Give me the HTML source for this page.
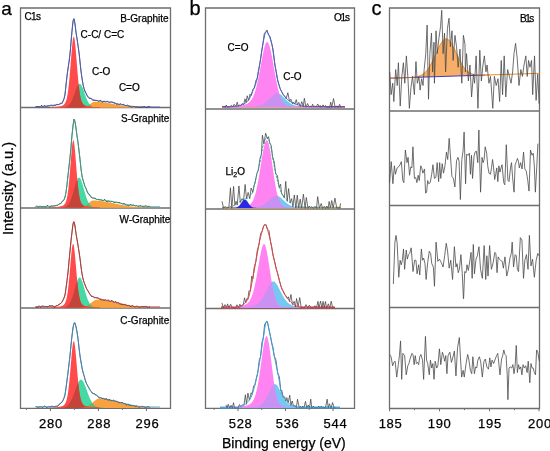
<!DOCTYPE html>
<html><head><meta charset="utf-8"><style>
html,body{margin:0;padding:0;background:#fff;width:550px;height:451px;overflow:hidden}
svg{display:block}
text{font-family:"Liberation Sans",sans-serif;fill:#000;stroke:#000;stroke-width:0.25px}
#g{will-change:transform}
</style></head><body>
<svg id="g" width="550" height="451" viewBox="0 0 550 451">
<rect width="550" height="451" fill="#fff"/>
<path d="M20.5,8 H170.5 V408.3 H20.5 Z" fill="none" stroke="#6e6e6e" stroke-width="1.3"/>
<path d="M20.5,107.5 H170.5" stroke="#6e6e6e" stroke-width="1.3"/>
<path d="M20.5,208 H170.5" stroke="#6e6e6e" stroke-width="1.3"/>
<path d="M20.5,308 H170.5" stroke="#6e6e6e" stroke-width="1.3"/>
<path d="M205.5,8 H354.5 V408.3 H205.5 Z" fill="none" stroke="#6e6e6e" stroke-width="1.3"/>
<path d="M205.5,109 H354.5" stroke="#6e6e6e" stroke-width="1.3"/>
<path d="M205.5,209 H354.5" stroke="#6e6e6e" stroke-width="1.3"/>
<path d="M205.5,308.5 H354.5" stroke="#6e6e6e" stroke-width="1.3"/>
<path d="M389.5,8 H539.5 V408.5 H389.5 Z" fill="none" stroke="#6e6e6e" stroke-width="1.3"/>
<path d="M389.5,111 H539.5" stroke="#6e6e6e" stroke-width="1.3"/>
<path d="M389.5,205.5 H539.5" stroke="#6e6e6e" stroke-width="1.3"/>
<path d="M389.5,307.5 H539.5" stroke="#6e6e6e" stroke-width="1.3"/>
<path d="M45,107.8 L45,107.8 L45.5,107.8 L46,107.8 L46.5,107.8 L47,107.8 L47.5,107.8 L48,107.8 L48.5,107.8 L49,107.8 L49.5,107.8 L50,107.8 L50.5,107.8 L51,107.8 L51.5,107.8 L52,107.8 L52.5,107.8 L53,107.8 L53.5,107.8 L54,107.8 L54.5,107.8 L55,107.8 L55.5,107.8 L56,107.8 L56.5,107.8 L57,107.8 L57.5,107.8 L58,107.8 L58.5,107.8 L59,107.8 L59.5,107.8 L60,107.8 L60.5,107.8 L61,107.8 L61.5,107.8 L62,107.8 L62.5,107.8 L63,107.8 L63.5,107.8 L64,107.8 L64.5,107.8 L65,107.8 L65.5,107.8 L66,107.8 L66.5,107.8 L67,107.8 L67.5,107.8 L68,107.8 L68.5,107.8 L69,107.8 L69.5,107.8 L70,107.8 L70.5,107.8 L71,107.8 L71.5,107.8 L72,107.8 L72.5,107.8 L73,107.8 L73.5,107.8 L74,107.8 L74.5,107.8 L75,107.8 L75.5,107.8 L76,107.8 L76.5,107.79 L77,107.79 L77.5,107.79 L78,107.78 L78.5,107.77 L79,107.76 L79.5,107.75 L80,107.73 L80.5,107.71 L81,107.68 L81.5,107.64 L82,107.6 L82.5,107.54 L83,107.46 L83.5,107.37 L84,107.27 L84.5,107.14 L85,106.99 L85.5,106.81 L86,106.61 L86.5,106.39 L87,106.13 L87.5,105.85 L88,105.55 L88.5,105.22 L89,104.88 L89.5,104.52 L90,104.16 L90.5,103.8 L91,103.44 L91.5,103.1 L92,102.79 L92.5,102.51 L93,102.26 L93.5,102.06 L94,101.92 L94.5,101.83 L95,101.8 L95.5,101.8 L96,101.81 L96.5,101.82 L97,101.83 L97.5,101.85 L98,101.87 L98.5,101.9 L99,101.93 L99.5,101.97 L100,102 L100.5,102.05 L101,102.09 L101.5,102.14 L102,102.19 L102.5,102.25 L103,102.31 L103.5,102.37 L104,102.44 L104.5,102.51 L105,102.58 L105.5,102.65 L106,102.73 L106.5,102.8 L107,102.88 L107.5,102.97 L108,103.05 L108.5,103.14 L109,103.23 L109.5,103.32 L110,103.41 L110.5,103.5 L111,103.59 L111.5,103.68 L112,103.78 L112.5,103.87 L113,103.97 L113.5,104.07 L114,104.16 L114.5,104.26 L115,104.35 L115.5,104.45 L116,104.54 L116.5,104.64 L117,104.73 L117.5,104.82 L118,104.92 L118.5,105.01 L119,105.1 L119.5,105.19 L120,105.28 L120.5,105.36 L121,105.45 L121.5,105.53 L122,105.61 L122.5,105.69 L123,105.77 L123.5,105.85 L124,105.93 L124.5,106 L125,106.08 L125.5,106.15 L126,106.21 L126.5,106.28 L127,106.35 L127.5,106.41 L128,106.47 L128.5,106.53 L129,106.59 L129.5,106.65 L130,106.7 L130.5,106.75 L131,106.8 L131.5,106.85 L132,106.9 L132.5,106.94 L133,106.99 L133.5,107.03 L134,107.07 L134.5,107.11 L135,107.15 L135.5,107.18 L136,107.22 L136.5,107.25 L137,107.28 L137.5,107.31 L138,107.34 L138.5,107.36 L139,107.39 L139.5,107.41 L140,107.44 L140.5,107.46 L141,107.48 L141.5,107.5 L142,107.52 L142.5,107.54 L143,107.55 L143.5,107.57 L144,107.58 L144.5,107.6 L145,107.61 L145.5,107.62 L146,107.64 L146.5,107.65 L147,107.66 L147.5,107.67 L148,107.68 L148.5,107.69 L149,107.69 L149.5,107.7 L150,107.71 L150.5,107.72 L151,107.72 L151.5,107.73 L152,107.73 L152.5,107.74 L153,107.74 L153.5,107.75 L154,107.75 L154.5,107.76 L155,107.76 L155.5,107.76 L156,107.77 L156.5,107.77 L157,107.77 L157.5,107.77 L158,107.78 L158.5,107.78 L159,107.78 L159.5,107.78 L160,107.78 L160.5,107.78 L161,107.79 L161.5,107.79 L162,107.79 L162.5,107.79 L163,107.79 L163.5,107.79 L164,107.79 L164.5,107.79 L165,107.79 L165,107.8 Z" fill="#f7a23e" stroke="none"/>
<path d="M55,107.8 L55,107.7 L55.5,107.69 L56,107.69 L56.5,107.68 L57,107.68 L57.5,107.67 L58,107.67 L58.5,107.66 L59,107.65 L59.5,107.64 L60,107.63 L60.5,107.62 L61,107.6 L61.5,107.58 L62,107.56 L62.5,107.53 L63,107.5 L63.5,107.45 L64,107.39 L64.5,107.32 L65,107.22 L65.5,107.1 L66,106.95 L66.5,106.76 L67,106.53 L67.5,106.25 L68,105.91 L68.5,105.5 L69,105.01 L69.5,104.44 L70,103.78 L70.5,103.02 L71,102.16 L71.5,101.19 L72,100.12 L72.5,98.96 L73,97.71 L73.5,96.38 L74,95 L74.5,93.58 L75,92.15 L75.5,90.73 L76,89.36 L76.5,88.08 L77,86.91 L77.5,85.88 L78,85.03 L78.5,84.39 L79,83.98 L79.5,83.8 L80,83.88 L80.5,84.2 L81,84.75 L81.5,85.52 L82,86.48 L82.5,87.59 L83,88.84 L83.5,90.18 L84,91.58 L84.5,93.01 L85,94.43 L85.5,95.84 L86,97.19 L86.5,98.47 L87,99.67 L87.5,100.78 L88,101.78 L88.5,102.69 L89,103.49 L89.5,104.19 L90,104.8 L90.5,105.32 L91,105.75 L91.5,106.12 L92,106.43 L92.5,106.68 L93,106.88 L93.5,107.04 L94,107.18 L94.5,107.28 L95,107.36 L95.5,107.43 L96,107.48 L96.5,107.52 L97,107.55 L97.5,107.58 L98,107.6 L98.5,107.61 L99,107.63 L99.5,107.64 L100,107.65 L100.5,107.66 L101,107.66 L101.5,107.67 L102,107.67 L102.5,107.68 L103,107.69 L103.5,107.69 L104,107.69 L104.5,107.7 L105,107.7 L105.5,107.71 L106,107.71 L106.5,107.71 L107,107.72 L107.5,107.72 L108,107.72 L108.5,107.72 L109,107.73 L109.5,107.73 L110,107.73 L110.5,107.73 L111,107.73 L111.5,107.74 L112,107.74 L112.5,107.74 L113,107.74 L113.5,107.74 L114,107.75 L114.5,107.75 L115,107.75 L115,107.8 Z" fill="#46d9a3" stroke="none"/>
<path d="M55,107.8 L55,107.8 L55.5,107.8 L56,107.8 L56.5,107.8 L57,107.8 L57.5,107.8 L58,107.8 L58.5,107.8 L59,107.8 L59.5,107.8 L60,107.8 L60.5,107.8 L61,107.8 L61.5,107.8 L62,107.8 L62.5,107.8 L63,107.8 L63.5,107.8 L64,107.8 L64.5,107.8 L65,107.8 L65.5,107.8 L66,107.8 L66.5,107.8 L67,107.8 L67.5,107.8 L68,107.8 L68.5,107.8 L69,107.8 L69.5,107.8 L70,107.8 L70.5,107.8 L71,107.8 L71.5,107.8 L72,107.8 L72.5,107.8 L73,107.8 L73.5,107.8 L74,107.8 L74.5,107.8 L75,107.8 L75.5,107.8 L76,107.8 L76.5,107.79 L77,107.79 L77.5,107.79 L78,107.78 L78.5,107.77 L79,107.76 L79.5,107.75 L80,107.73 L80.5,107.71 L81,107.68 L81.5,107.64 L82,107.6 L82.5,107.54 L83,107.46 L83.5,107.37 L84,107.27 L84.5,107.14 L85,106.99 L85.5,106.81 L86,106.61 L86.5,106.39 L87,106.13 L87.5,105.85 L88,105.55 L88.5,105.22 L89,104.88 L89.5,104.52 L90,104.8 L90.5,105.32 L91,105.75 L91.5,106.12 L92,106.43 L92.5,106.68 L93,106.88 L93.5,107.04 L94,107.18 L94.5,107.28 L95,107.36 L95.5,107.43 L96,107.48 L96.5,107.52 L97,107.55 L97.5,107.58 L98,107.6 L98.5,107.61 L99,107.63 L99.5,107.64 L100,107.65 L100.5,107.66 L101,107.66 L101.5,107.67 L102,107.67 L102.5,107.68 L103,107.69 L103.5,107.69 L104,107.69 L104.5,107.7 L105,107.7 L105.5,107.71 L106,107.71 L106.5,107.71 L107,107.72 L107.5,107.72 L108,107.72 L108.5,107.72 L109,107.73 L109.5,107.73 L110,107.73 L110.5,107.73 L111,107.73 L111.5,107.74 L112,107.74 L112.5,107.74 L113,107.74 L113.5,107.74 L114,107.75 L114.5,107.75 L115,107.75 L115,107.8 Z" fill="#5fb86e" stroke="none"/>
<path d="M50,107.8 L50,107.27 L50.5,107.25 L51,107.23 L51.5,107.2 L52,107.18 L52.5,107.15 L53,107.12 L53.5,107.08 L54,107.05 L54.5,107.01 L55,106.97 L55.5,106.93 L56,106.88 L56.5,106.83 L57,106.77 L57.5,106.71 L58,106.64 L58.5,106.57 L59,106.49 L59.5,106.4 L60,106.3 L60.5,106.19 L61,106.06 L61.5,105.92 L62,105.75 L62.5,105.54 L63,105.28 L63.5,104.96 L64,104.54 L64.5,103.99 L65,103.27 L65.5,102.31 L66,101.05 L66.5,99.42 L67,97.32 L67.5,94.69 L68,91.44 L68.5,87.54 L69,82.95 L69.5,77.73 L70,71.94 L70.5,65.74 L71,59.34 L71.5,53.05 L72,47.23 L72.5,42.29 L73,38.67 L73.5,36.75 L74,36.75 L74.5,38.67 L75,42.29 L75.5,47.23 L76,53.05 L76.5,59.34 L77,65.74 L77.5,71.94 L78,77.73 L78.5,82.95 L79,87.54 L79.5,91.44 L80,94.69 L80.5,97.32 L81,99.42 L81.5,101.05 L82,102.31 L82.5,103.27 L83,103.99 L83.5,104.54 L84,104.96 L84.5,105.28 L85,105.54 L85.5,105.75 L86,105.92 L86.5,106.06 L87,106.19 L87.5,106.3 L88,106.4 L88.5,106.49 L89,106.57 L89.5,106.64 L90,106.71 L90.5,106.77 L91,106.83 L91.5,106.88 L92,106.93 L92.5,106.97 L93,107.01 L93.5,107.05 L94,107.08 L94.5,107.12 L95,107.15 L95.5,107.18 L96,107.2 L96.5,107.23 L97,107.25 L97.5,107.27 L98,107.3 L98.5,107.32 L99,107.33 L99.5,107.35 L100,107.37 L100,107.8 Z" fill="#ff4b4b" stroke="none"/>
<path d="M50,107.8 L50,107.73 L50.5,107.72 L51,107.72 L51.5,107.72 L52,107.72 L52.5,107.71 L53,107.71 L53.5,107.71 L54,107.7 L54.5,107.7 L55,107.7 L55.5,107.69 L56,107.69 L56.5,107.68 L57,107.68 L57.5,107.67 L58,107.67 L58.5,107.66 L59,107.65 L59.5,107.64 L60,107.63 L60.5,107.62 L61,107.6 L61.5,107.58 L62,107.56 L62.5,107.53 L63,107.5 L63.5,107.45 L64,107.39 L64.5,107.32 L65,107.22 L65.5,107.1 L66,106.95 L66.5,106.76 L67,106.53 L67.5,106.25 L68,105.91 L68.5,105.5 L69,105.01 L69.5,104.44 L70,103.78 L70.5,103.02 L71,102.16 L71.5,101.19 L72,100.12 L72.5,98.96 L73,97.71 L73.5,96.38 L74,95 L74.5,93.58 L75,92.15 L75.5,90.73 L76,89.36 L76.5,88.08 L77,86.91 L77.5,85.88 L78,85.03 L78.5,84.39 L79,87.54 L79.5,91.44 L80,94.69 L80.5,97.32 L81,99.42 L81.5,101.05 L82,102.31 L82.5,103.27 L83,103.99 L83.5,104.54 L84,104.96 L84.5,105.28 L85,105.54 L85.5,105.75 L86,105.92 L86.5,106.06 L87,106.19 L87.5,106.3 L88,106.4 L88.5,106.49 L89,106.57 L89.5,106.64 L90,106.71 L90.5,106.77 L91,106.83 L91.5,106.88 L92,106.93 L92.5,106.97 L93,107.01 L93.5,107.05 L94,107.18 L94.5,107.28 L95,107.36 L95.5,107.43 L96,107.48 L96.5,107.52 L97,107.55 L97.5,107.58 L98,107.6 L98.5,107.61 L99,107.63 L99.5,107.64 L100,107.65 L100,107.8 Z" fill="#c4443a" stroke="none"/>
<path d="M50,107.8 L50,107.8 L50.5,107.8 L51,107.8 L51.5,107.8 L52,107.8 L52.5,107.8 L53,107.8 L53.5,107.8 L54,107.8 L54.5,107.8 L55,107.8 L55.5,107.8 L56,107.8 L56.5,107.8 L57,107.8 L57.5,107.8 L58,107.8 L58.5,107.8 L59,107.8 L59.5,107.8 L60,107.8 L60.5,107.8 L61,107.8 L61.5,107.8 L62,107.8 L62.5,107.8 L63,107.8 L63.5,107.8 L64,107.8 L64.5,107.8 L65,107.8 L65.5,107.8 L66,107.8 L66.5,107.8 L67,107.8 L67.5,107.8 L68,107.8 L68.5,107.8 L69,107.8 L69.5,107.8 L70,107.8 L70.5,107.8 L71,107.8 L71.5,107.8 L72,107.8 L72.5,107.8 L73,107.8 L73.5,107.8 L74,107.8 L74.5,107.8 L75,107.8 L75.5,107.8 L76,107.8 L76.5,107.79 L77,107.79 L77.5,107.79 L78,107.78 L78.5,107.77 L79,107.76 L79.5,107.75 L80,107.73 L80.5,107.71 L81,107.68 L81.5,107.64 L82,107.6 L82.5,107.54 L83,107.46 L83.5,107.37 L84,107.27 L84.5,107.14 L85,106.99 L85.5,106.81 L86,106.61 L86.5,106.39 L87,106.19 L87.5,106.3 L88,106.4 L88.5,106.49 L89,106.57 L89.5,106.64 L90,106.71 L90.5,106.77 L91,106.83 L91.5,106.88 L92,106.93 L92.5,106.97 L93,107.01 L93.5,107.05 L94,107.08 L94.5,107.12 L95,107.15 L95.5,107.18 L96,107.2 L96.5,107.23 L97,107.25 L97.5,107.27 L98,107.3 L98.5,107.32 L99,107.33 L99.5,107.35 L100,107.37 L100,107.8 Z" fill="#f2553a" stroke="none"/>
<path d="M36,106.29 L37,106.79 L38,106.42 L39,106.78 L40,106.75 L41,105.66 L42,105.49 L43,106.88 L44,105.75 L45,105.6 L46,106.87 L47,105.82 L48,106.37 L49,105.61 L50,105.8 L51,104.82 L52,105.59 L53,105.92 L54,105.19 L55,105.47 L56,105.2 L57,103.95 L58,105 L59,104.47 L60,103.67 L61,102.85 L62,103.64 L63,101.18 L64,98.96 L65,94.68 L66,85.25 L67,76.48 L68,68.45 L69,62.37 L70,53.76 L71,42.78 L72,31.56 L73,21.11 L74,18.6 L75,23.73 L76,32.82 L77,38.56 L78,45.64 L79,52.43 L80,61.84 L81,70.98 L82,78.12 L83,84.34 L84,88.58 L85,91.69 L86,93.45 L87,95.71 L88,97.03 L89,98.37 L90,98.51 L91,98.08 L92,99.77 L93,100.34 L94,100.56 L95,100.24 L96,100.75 L97,100.06 L98,101.37 L99,101.08 L100,100.71 L101,100.45 L102,101.99 L103,102.33 L104,100.79 L105,102.16 L106,101.53 L107,101.15 L108,101.5 L109,102.46 L110,102.77 L111,101.43 L112,102.64 L113,101.83 L114,103.26 L115,102.81 L116,104.04 L117,104.47 L118,103.86 L119,104.98 L120,103.96 L121,103.75 L122,104.92 L123,104.12 L124,104.64 L125,105.23 L126,105.79 L127,105.14 L128,105.08 L129,106.68 L130,105.8 L131,107.08 L132,107.08 L133,106.25 L134,106.49 L135,106.69 L136,106.99 L137,106.97 L138,106.95 L139,107.1 L140,107.69 L141,106.92 L142,106.8 L143,107.32 L144,106.46 L145,106.59 L146,107.81 L147,107 L148,107.05 L149,106.09 L150,106.82" fill="none" stroke="#222" stroke-width="0.7" stroke-linejoin="round" />
<path d="M35,106.8 L35.5,106.78 L36,106.76 L36.5,106.74 L37,106.71 L37.5,106.69 L38,106.66 L38.5,106.63 L39,106.59 L39.5,106.56 L40,106.52 L40.5,106.49 L41,106.45 L41.5,106.41 L42,106.36 L42.5,106.32 L43,106.27 L43.5,106.23 L44,106.18 L44.5,106.13 L45,106.08 L45.5,106.03 L46,105.98 L46.5,105.93 L47,105.88 L47.5,105.82 L48,105.77 L48.5,105.71 L49,105.66 L49.5,105.6 L50,105.55 L50.5,105.49 L51,105.44 L51.5,105.4 L52,105.35 L52.5,105.3 L53,105.25 L53.5,105.2 L54,105.15 L54.5,105.09 L55,105.03 L55.5,104.97 L56,104.9 L56.5,104.82 L57,104.73 L57.5,104.64 L58,104.54 L58.5,104.43 L59,104.3 L59.5,104.17 L60,104.02 L60.5,103.86 L61,103.69 L61.5,103.47 L62,102.98 L62.5,102.23 L63,101.22 L63.5,100 L64,98.57 L64.5,96.93 L65,94 L65.5,89.76 L66,84.86 L66.5,79.97 L67,75.72 L67.5,72.06 L68,68.64 L68.5,65.29 L69,61.83 L69.5,58.08 L70,53.86 L70.5,48.67 L71,42 L71.5,35.79 L72,30.88 L72.5,25.96 L73,21.83 L73.5,19.35 L74,19.26 L74.5,21.11 L75,24.24 L75.5,28.06 L76,31.99 L76.5,35.44 L77,38.67 L77.5,41.98 L78,45.41 L78.5,48.99 L79,52.78 L79.5,57.1 L80,61.83 L80.5,66.64 L81,71.19 L81.5,75.15 L82,78.39 L82.5,81.41 L83,84.18 L83.5,86.56 L84,88.43 L84.5,89.76 L85,90.96 L85.5,92.08 L86,93.12 L86.5,94.07 L87,94.93 L87.5,95.71 L88,96.39 L88.5,96.99 L89,97.49 L89.5,97.89 L90,98.2 L90.5,98.45 L91,98.69 L91.5,98.91 L92,99.12 L92.5,99.32 L93,99.5 L93.5,99.67 L94,99.83 L94.5,99.98 L95,100.12 L95.5,100.25 L96,100.37 L96.5,100.48 L97,100.58 L97.5,100.68 L98,100.78 L98.5,100.86 L99,100.95 L99.5,101.02 L100,101.1 L100.5,101.17 L101,101.24 L101.5,101.3 L102,101.35 L102.5,101.4 L103,101.45 L103.5,101.49 L104,101.53 L104.5,101.57 L105,101.61 L105.5,101.65 L106,101.69 L106.5,101.73 L107,101.78 L107.5,101.82 L108,101.87 L108.5,101.92 L109,101.97 L109.5,102.03 L110,102.1 L110.5,102.17 L111,102.25 L111.5,102.34 L112,102.44 L112.5,102.54 L113,102.65 L113.5,102.76 L114,102.87 L114.5,102.99 L115,103.11 L115.5,103.23 L116,103.36 L116.5,103.48 L117,103.6 L117.5,103.73 L118,103.85 L118.5,103.97 L119,104.08 L119.5,104.19 L120,104.3 L120.5,104.41 L121,104.52 L121.5,104.63 L122,104.74 L122.5,104.85 L123,104.97 L123.5,105.08 L124,105.19 L124.5,105.3 L125,105.4 L125.5,105.5 L126,105.59 L126.5,105.68 L127,105.76 L127.5,105.83 L128,105.9 L128.5,105.96 L129,106.02 L129.5,106.08 L130,106.14 L130.5,106.2 L131,106.25 L131.5,106.31 L132,106.37 L132.5,106.42 L133,106.47 L133.5,106.52 L134,106.57 L134.5,106.61 L135,106.65 L135.5,106.69 L136,106.73 L136.5,106.76 L137,106.79 L137.5,106.82 L138,106.85 L138.5,106.87 L139,106.88 L139.5,106.89 L140,106.9 L140.5,106.91 L141,106.91 L141.5,106.91 L142,106.92 L142.5,106.92 L143,106.93 L143.5,106.93 L144,106.94 L144.5,106.94 L145,106.94 L145.5,106.95 L146,106.95 L146.5,106.95 L147,106.96 L147.5,106.96 L148,106.96 L148.5,106.97 L149,106.97 L149.5,106.97 L150,106.98 L150.5,106.98 L151,106.98 L151.5,106.98 L152,106.98 L152.5,106.99 L153,106.99 L153.5,106.99 L154,106.99 L154.5,106.99 L155,106.99 L155.5,107 L156,107 L156.5,107 L157,107 L157.5,107 L158,107 L158.5,107 L159,107 L159.5,107 L160,107" fill="none" stroke="#4858c0" stroke-width="0.85" stroke-linejoin="round" />
<text x="120.3" y="22" font-size="10">B-Graphite</text>
<path d="M45,207.8 L45,207.8 L45.5,207.8 L46,207.8 L46.5,207.8 L47,207.8 L47.5,207.8 L48,207.8 L48.5,207.8 L49,207.8 L49.5,207.8 L50,207.8 L50.5,207.8 L51,207.8 L51.5,207.8 L52,207.8 L52.5,207.8 L53,207.8 L53.5,207.8 L54,207.8 L54.5,207.8 L55,207.8 L55.5,207.8 L56,207.8 L56.5,207.8 L57,207.8 L57.5,207.8 L58,207.8 L58.5,207.8 L59,207.8 L59.5,207.8 L60,207.8 L60.5,207.8 L61,207.8 L61.5,207.8 L62,207.8 L62.5,207.8 L63,207.8 L63.5,207.8 L64,207.8 L64.5,207.8 L65,207.8 L65.5,207.8 L66,207.8 L66.5,207.8 L67,207.8 L67.5,207.8 L68,207.8 L68.5,207.8 L69,207.8 L69.5,207.8 L70,207.8 L70.5,207.8 L71,207.8 L71.5,207.8 L72,207.8 L72.5,207.8 L73,207.8 L73.5,207.8 L74,207.8 L74.5,207.8 L75,207.8 L75.5,207.8 L76,207.79 L76.5,207.79 L77,207.79 L77.5,207.78 L78,207.77 L78.5,207.76 L79,207.74 L79.5,207.72 L80,207.69 L80.5,207.65 L81,207.59 L81.5,207.52 L82,207.43 L82.5,207.32 L83,207.18 L83.5,207.01 L84,206.81 L84.5,206.57 L85,206.3 L85.5,205.98 L86,205.62 L86.5,205.23 L87,204.8 L87.5,204.34 L88,203.86 L88.5,203.37 L89,202.88 L89.5,202.41 L90,201.95 L90.5,201.54 L91,201.19 L91.5,200.89 L92,200.68 L92.5,200.54 L93,200.5 L93.5,200.5 L94,200.51 L94.5,200.52 L95,200.53 L95.5,200.55 L96,200.57 L96.5,200.6 L97,200.63 L97.5,200.67 L98,200.7 L98.5,200.75 L99,200.79 L99.5,200.84 L100,200.89 L100.5,200.95 L101,201.01 L101.5,201.07 L102,201.14 L102.5,201.21 L103,201.28 L103.5,201.36 L104,201.44 L104.5,201.52 L105,201.6 L105.5,201.69 L106,201.77 L106.5,201.86 L107,201.95 L107.5,202.05 L108,202.14 L108.5,202.24 L109,202.34 L109.5,202.44 L110,202.54 L110.5,202.64 L111,202.74 L111.5,202.85 L112,202.95 L112.5,203.06 L113,203.16 L113.5,203.27 L114,203.37 L114.5,203.48 L115,203.58 L115.5,203.69 L116,203.79 L116.5,203.9 L117,204 L117.5,204.1 L118,204.21 L118.5,204.31 L119,204.41 L119.5,204.51 L120,204.61 L120.5,204.7 L121,204.8 L121.5,204.89 L122,204.99 L122.5,205.08 L123,205.17 L123.5,205.26 L124,205.34 L124.5,205.43 L125,205.51 L125.5,205.6 L126,205.68 L126.5,205.75 L127,205.83 L127.5,205.91 L128,205.98 L128.5,206.05 L129,206.12 L129.5,206.19 L130,206.25 L130.5,206.32 L131,206.38 L131.5,206.44 L132,206.5 L132.5,206.56 L133,206.61 L133.5,206.66 L134,206.71 L134.5,206.76 L135,206.81 L135.5,206.86 L136,206.9 L136.5,206.95 L137,206.99 L137.5,207.03 L138,207.07 L138.5,207.1 L139,207.14 L139.5,207.17 L140,207.2 L140.5,207.23 L141,207.26 L141.5,207.29 L142,207.32 L142.5,207.35 L143,207.37 L143.5,207.39 L144,207.42 L144.5,207.44 L145,207.46 L145.5,207.48 L146,207.5 L146.5,207.52 L147,207.53 L147.5,207.55 L148,207.56 L148.5,207.58 L149,207.59 L149.5,207.6 L150,207.62 L150.5,207.63 L151,207.64 L151.5,207.65 L152,207.66 L152.5,207.67 L153,207.68 L153.5,207.68 L154,207.69 L154.5,207.7 L155,207.71 L155.5,207.71 L156,207.72 L156.5,207.72 L157,207.73 L157.5,207.73 L158,207.74 L158.5,207.74 L159,207.75 L159.5,207.75 L160,207.76 L160.5,207.76 L161,207.76 L161.5,207.76 L162,207.77 L162.5,207.77 L163,207.77 L163.5,207.77 L164,207.78 L164.5,207.78 L165,207.78 L165,207.8 Z" fill="#f7a23e" stroke="none"/>
<path d="M55,207.8 L55,207.66 L55.5,207.66 L56,207.65 L56.5,207.64 L57,207.64 L57.5,207.63 L58,207.62 L58.5,207.61 L59,207.6 L59.5,207.58 L60,207.57 L60.5,207.55 L61,207.52 L61.5,207.49 L62,207.45 L62.5,207.41 L63,207.34 L63.5,207.27 L64,207.17 L64.5,207.04 L65,206.88 L65.5,206.68 L66,206.44 L66.5,206.14 L67,205.76 L67.5,205.32 L68,204.78 L68.5,204.15 L69,203.4 L69.5,202.54 L70,201.56 L70.5,200.44 L71,199.2 L71.5,197.83 L72,196.33 L72.5,194.73 L73,193.04 L73.5,191.28 L74,189.48 L74.5,187.68 L75,185.9 L75.5,184.19 L76,182.59 L76.5,181.15 L77,179.89 L77.5,178.87 L78,178.12 L78.5,177.66 L79,177.5 L79.5,177.66 L80,178.12 L80.5,178.87 L81,179.89 L81.5,181.15 L82,182.59 L82.5,184.19 L83,185.9 L83.5,187.68 L84,189.48 L84.5,191.28 L85,193.04 L85.5,194.73 L86,196.33 L86.5,197.83 L87,199.2 L87.5,200.44 L88,201.56 L88.5,202.54 L89,203.4 L89.5,204.15 L90,204.78 L90.5,205.32 L91,205.76 L91.5,206.14 L92,206.44 L92.5,206.68 L93,206.88 L93.5,207.04 L94,207.17 L94.5,207.27 L95,207.34 L95.5,207.41 L96,207.45 L96.5,207.49 L97,207.52 L97.5,207.55 L98,207.57 L98.5,207.58 L99,207.6 L99.5,207.61 L100,207.62 L100.5,207.63 L101,207.64 L101.5,207.64 L102,207.65 L102.5,207.66 L103,207.66 L103.5,207.67 L104,207.67 L104.5,207.68 L105,207.68 L105.5,207.69 L106,207.69 L106.5,207.69 L107,207.7 L107.5,207.7 L108,207.7 L108.5,207.71 L109,207.71 L109.5,207.71 L110,207.72 L110.5,207.72 L111,207.72 L111.5,207.72 L112,207.73 L112.5,207.73 L113,207.73 L113.5,207.73 L114,207.73 L114.5,207.74 L115,207.74 L115,207.8 Z" fill="#46d9a3" stroke="none"/>
<path d="M55,207.8 L55,207.8 L55.5,207.8 L56,207.8 L56.5,207.8 L57,207.8 L57.5,207.8 L58,207.8 L58.5,207.8 L59,207.8 L59.5,207.8 L60,207.8 L60.5,207.8 L61,207.8 L61.5,207.8 L62,207.8 L62.5,207.8 L63,207.8 L63.5,207.8 L64,207.8 L64.5,207.8 L65,207.8 L65.5,207.8 L66,207.8 L66.5,207.8 L67,207.8 L67.5,207.8 L68,207.8 L68.5,207.8 L69,207.8 L69.5,207.8 L70,207.8 L70.5,207.8 L71,207.8 L71.5,207.8 L72,207.8 L72.5,207.8 L73,207.8 L73.5,207.8 L74,207.8 L74.5,207.8 L75,207.8 L75.5,207.8 L76,207.79 L76.5,207.79 L77,207.79 L77.5,207.78 L78,207.77 L78.5,207.76 L79,207.74 L79.5,207.72 L80,207.69 L80.5,207.65 L81,207.59 L81.5,207.52 L82,207.43 L82.5,207.32 L83,207.18 L83.5,207.01 L84,206.81 L84.5,206.57 L85,206.3 L85.5,205.98 L86,205.62 L86.5,205.23 L87,204.8 L87.5,204.34 L88,203.86 L88.5,203.37 L89,203.4 L89.5,204.15 L90,204.78 L90.5,205.32 L91,205.76 L91.5,206.14 L92,206.44 L92.5,206.68 L93,206.88 L93.5,207.04 L94,207.17 L94.5,207.27 L95,207.34 L95.5,207.41 L96,207.45 L96.5,207.49 L97,207.52 L97.5,207.55 L98,207.57 L98.5,207.58 L99,207.6 L99.5,207.61 L100,207.62 L100.5,207.63 L101,207.64 L101.5,207.64 L102,207.65 L102.5,207.66 L103,207.66 L103.5,207.67 L104,207.67 L104.5,207.68 L105,207.68 L105.5,207.69 L106,207.69 L106.5,207.69 L107,207.7 L107.5,207.7 L108,207.7 L108.5,207.71 L109,207.71 L109.5,207.71 L110,207.72 L110.5,207.72 L111,207.72 L111.5,207.72 L112,207.73 L112.5,207.73 L113,207.73 L113.5,207.73 L114,207.73 L114.5,207.74 L115,207.74 L115,207.8 Z" fill="#5fb86e" stroke="none"/>
<path d="M50,207.8 L50,207.34 L50.5,207.32 L51,207.3 L51.5,207.28 L52,207.26 L52.5,207.23 L53,207.2 L53.5,207.17 L54,207.14 L54.5,207.11 L55,207.07 L55.5,207.03 L56,206.99 L56.5,206.94 L57,206.89 L57.5,206.83 L58,206.77 L58.5,206.7 L59,206.63 L59.5,206.55 L60,206.46 L60.5,206.36 L61,206.24 L61.5,206.11 L62,205.95 L62.5,205.76 L63,205.53 L63.5,205.23 L64,204.85 L64.5,204.34 L65,203.65 L65.5,202.72 L66,201.48 L66.5,199.84 L67,197.7 L67.5,194.97 L68,191.58 L68.5,187.46 L69,182.61 L69.5,177.09 L70,171.02 L70.5,164.61 L71,158.14 L71.5,152.01 L72,146.68 L72.5,142.65 L73,140.38 L73.5,140.17 L74,142.04 L74.5,145.75 L75,150.87 L75.5,156.87 L76,163.31 L76.5,169.76 L77,175.92 L77.5,181.56 L78,186.55 L78.5,190.81 L79,194.35 L79.5,197.21 L80,199.46 L80.5,201.19 L81,202.5 L81.5,203.48 L82,204.21 L82.5,204.76 L83,205.16 L83.5,205.48 L84,205.72 L84.5,205.92 L85,206.08 L85.5,206.21 L86,206.33 L86.5,206.44 L87,206.53 L87.5,206.61 L88,206.69 L88.5,206.76 L89,206.82 L89.5,206.88 L90,206.93 L90.5,206.98 L91,207.02 L91.5,207.06 L92,207.1 L92.5,207.13 L93,207.17 L93.5,207.2 L94,207.22 L94.5,207.25 L95,207.27 L95.5,207.3 L96,207.32 L96.5,207.34 L97,207.36 L97.5,207.38 L98,207.39 L98.5,207.41 L99,207.42 L99.5,207.44 L100,207.45 L100,207.8 Z" fill="#ff4b4b" stroke="none"/>
<path d="M50,207.8 L50,207.7 L50.5,207.7 L51,207.7 L51.5,207.69 L52,207.69 L52.5,207.69 L53,207.68 L53.5,207.68 L54,207.67 L54.5,207.67 L55,207.66 L55.5,207.66 L56,207.65 L56.5,207.64 L57,207.64 L57.5,207.63 L58,207.62 L58.5,207.61 L59,207.6 L59.5,207.58 L60,207.57 L60.5,207.55 L61,207.52 L61.5,207.49 L62,207.45 L62.5,207.41 L63,207.34 L63.5,207.27 L64,207.17 L64.5,207.04 L65,206.88 L65.5,206.68 L66,206.44 L66.5,206.14 L67,205.76 L67.5,205.32 L68,204.78 L68.5,204.15 L69,203.4 L69.5,202.54 L70,201.56 L70.5,200.44 L71,199.2 L71.5,197.83 L72,196.33 L72.5,194.73 L73,193.04 L73.5,191.28 L74,189.48 L74.5,187.68 L75,185.9 L75.5,184.19 L76,182.59 L76.5,181.15 L77,179.89 L77.5,181.56 L78,186.55 L78.5,190.81 L79,194.35 L79.5,197.21 L80,199.46 L80.5,201.19 L81,202.5 L81.5,203.48 L82,204.21 L82.5,204.76 L83,205.16 L83.5,205.48 L84,205.72 L84.5,205.92 L85,206.08 L85.5,206.21 L86,206.33 L86.5,206.44 L87,206.53 L87.5,206.61 L88,206.69 L88.5,206.76 L89,206.82 L89.5,206.88 L90,206.93 L90.5,206.98 L91,207.02 L91.5,207.06 L92,207.1 L92.5,207.13 L93,207.17 L93.5,207.2 L94,207.22 L94.5,207.27 L95,207.34 L95.5,207.41 L96,207.45 L96.5,207.49 L97,207.52 L97.5,207.55 L98,207.57 L98.5,207.58 L99,207.6 L99.5,207.61 L100,207.62 L100,207.8 Z" fill="#c4443a" stroke="none"/>
<path d="M50,207.8 L50,207.8 L50.5,207.8 L51,207.8 L51.5,207.8 L52,207.8 L52.5,207.8 L53,207.8 L53.5,207.8 L54,207.8 L54.5,207.8 L55,207.8 L55.5,207.8 L56,207.8 L56.5,207.8 L57,207.8 L57.5,207.8 L58,207.8 L58.5,207.8 L59,207.8 L59.5,207.8 L60,207.8 L60.5,207.8 L61,207.8 L61.5,207.8 L62,207.8 L62.5,207.8 L63,207.8 L63.5,207.8 L64,207.8 L64.5,207.8 L65,207.8 L65.5,207.8 L66,207.8 L66.5,207.8 L67,207.8 L67.5,207.8 L68,207.8 L68.5,207.8 L69,207.8 L69.5,207.8 L70,207.8 L70.5,207.8 L71,207.8 L71.5,207.8 L72,207.8 L72.5,207.8 L73,207.8 L73.5,207.8 L74,207.8 L74.5,207.8 L75,207.8 L75.5,207.8 L76,207.79 L76.5,207.79 L77,207.79 L77.5,207.78 L78,207.77 L78.5,207.76 L79,207.74 L79.5,207.72 L80,207.69 L80.5,207.65 L81,207.59 L81.5,207.52 L82,207.43 L82.5,207.32 L83,207.18 L83.5,207.01 L84,206.81 L84.5,206.57 L85,206.3 L85.5,206.21 L86,206.33 L86.5,206.44 L87,206.53 L87.5,206.61 L88,206.69 L88.5,206.76 L89,206.82 L89.5,206.88 L90,206.93 L90.5,206.98 L91,207.02 L91.5,207.06 L92,207.1 L92.5,207.13 L93,207.17 L93.5,207.2 L94,207.22 L94.5,207.25 L95,207.27 L95.5,207.3 L96,207.32 L96.5,207.34 L97,207.36 L97.5,207.38 L98,207.39 L98.5,207.41 L99,207.42 L99.5,207.44 L100,207.45 L100,207.8 Z" fill="#f2553a" stroke="none"/>
<path d="M36,206.74 L37,205.73 L38,206.8 L39,206.82 L40,205.78 L41,206.79 L42,206.48 L43,206.84 L44,206.23 L45,206.84 L46,206.87 L47,205.55 L48,205.58 L49,206.65 L50,207.12 L51,205.79 L52,206.11 L53,206.29 L54,205.74 L55,205.76 L56,205.49 L57,205.25 L58,205.16 L59,204.04 L60,203.52 L61,203.5 L62,201.26 L63,201.06 L64,199.79 L65,196.96 L66,191.89 L67,184.8 L68,175.22 L69,166.54 L70,157.56 L71,147.13 L72,135 L73,125.72 L74,119.14 L75,121.99 L76,128 L77,136.11 L78,142.21 L79,150.54 L80,159.4 L81,169.16 L82,175.9 L83,179.89 L84,183.08 L85,186.48 L86,188.18 L87,191.44 L88,193.44 L89,193.92 L90,195.39 L91,197.22 L92,197.57 L93,198.42 L94,198.07 L95,198.09 L96,198.73 L97,199.91 L98,199.19 L99,199.5 L100,199.78 L101,199.91 L102,200 L103,201.02 L104,199.74 L105,199.56 L106,201.34 L107,201.33 L108,201.64 L109,200.78 L110,201.87 L111,202 L112,200.93 L113,202.08 L114,202.46 L115,202.37 L116,202.34 L117,202.15 L118,202.47 L119,202.5 L120,202.43 L121,203.58 L122,203.23 L123,204.36 L124,203.15 L125,204.86 L126,204.65 L127,205.23 L128,205.35 L129,205.51 L130,205.09 L131,204.23 L132,205.69 L133,204.8 L134,205.15 L135,205.92 L136,205.77 L137,205.66 L138,206.68 L139,206.15 L140,205.72 L141,205.62 L142,206.77 L143,206.13 L144,206.74 L145,206.01 L146,205.78 L147,206.44 L148,206.99 L149,205.87 L150,207.02" fill="none" stroke="#222" stroke-width="0.7" stroke-linejoin="round" />
<path d="M35,206.6 L35.5,206.6 L36,206.6 L36.5,206.6 L37,206.6 L37.5,206.59 L38,206.59 L38.5,206.59 L39,206.58 L39.5,206.58 L40,206.57 L40.5,206.56 L41,206.56 L41.5,206.55 L42,206.54 L42.5,206.53 L43,206.52 L43.5,206.51 L44,206.5 L44.5,206.48 L45,206.47 L45.5,206.46 L46,206.44 L46.5,206.42 L47,206.41 L47.5,206.39 L48,206.37 L48.5,206.35 L49,206.33 L49.5,206.31 L50,206.29 L50.5,206.26 L51,206.24 L51.5,206.21 L52,206.18 L52.5,206.16 L53,206.13 L53.5,206.1 L54,206.07 L54.5,206.03 L55,206 L55.5,205.94 L56,205.83 L56.5,205.68 L57,205.48 L57.5,205.25 L58,204.99 L58.5,204.71 L59,204.4 L59.5,204.07 L60,203.74 L60.5,203.39 L61,203.01 L61.5,202.59 L62,202.12 L62.5,201.57 L63,200.94 L63.5,200.21 L64,199.37 L64.5,198.4 L65,197.3 L65.5,195.43 L66,192.39 L66.5,188.55 L67,184.25 L67.5,179.85 L68,175.69 L68.5,171.51 L69,167.1 L69.5,162.49 L70,157.68 L70.5,152.54 L71,146.77 L71.5,140.94 L72,135.72 L72.5,130.99 L73,126.05 L73.5,121.86 L74,119.44 L74.5,119.54 L75,121.39 L75.5,124.42 L76,128.11 L76.5,131.95 L77,135.47 L77.5,139.01 L78,142.81 L78.5,146.78 L79,150.84 L79.5,154.9 L80,159.13 L80.5,163.8 L81,168.46 L81.5,172.68 L82,175.99 L82.5,178.34 L83,180.39 L83.5,182.18 L84,183.76 L84.5,185.16 L85,186.43 L85.5,187.6 L86,188.73 L86.5,189.83 L87,190.89 L87.5,191.89 L88,192.83 L88.5,193.7 L89,194.49 L89.5,195.19 L90,195.79 L90.5,196.28 L91,196.67 L91.5,197 L92,197.31 L92.5,197.6 L93,197.87 L93.5,198.12 L94,198.35 L94.5,198.56 L95,198.76 L95.5,198.94 L96,199.1 L96.5,199.25 L97,199.38 L97.5,199.5 L98,199.6 L98.5,199.69 L99,199.78 L99.5,199.86 L100,199.93 L100.5,199.99 L101,200.05 L101.5,200.11 L102,200.17 L102.5,200.22 L103,200.26 L103.5,200.31 L104,200.36 L104.5,200.4 L105,200.45 L105.5,200.49 L106,200.54 L106.5,200.59 L107,200.65 L107.5,200.7 L108,200.76 L108.5,200.83 L109,200.9 L109.5,200.98 L110,201.06 L110.5,201.14 L111,201.24 L111.5,201.33 L112,201.43 L112.5,201.53 L113,201.63 L113.5,201.74 L114,201.85 L114.5,201.96 L115,202.07 L115.5,202.19 L116,202.3 L116.5,202.42 L117,202.53 L117.5,202.65 L118,202.76 L118.5,202.87 L119,202.99 L119.5,203.1 L120,203.21 L120.5,203.31 L121,203.42 L121.5,203.52 L122,203.61 L122.5,203.71 L123,203.8 L123.5,203.88 L124,203.97 L124.5,204.05 L125,204.13 L125.5,204.22 L126,204.3 L126.5,204.38 L127,204.47 L127.5,204.55 L128,204.63 L128.5,204.71 L129,204.8 L129.5,204.87 L130,204.95 L130.5,205.03 L131,205.11 L131.5,205.18 L132,205.25 L132.5,205.32 L133,205.39 L133.5,205.45 L134,205.51 L134.5,205.57 L135,205.63 L135.5,205.68 L136,205.73 L136.5,205.77 L137,205.82 L137.5,205.85 L138,205.89 L138.5,205.92 L139,205.95 L139.5,205.98 L140,206.01 L140.5,206.04 L141,206.06 L141.5,206.09 L142,206.12 L142.5,206.15 L143,206.17 L143.5,206.2 L144,206.23 L144.5,206.25 L145,206.28 L145.5,206.3 L146,206.33 L146.5,206.35 L147,206.37 L147.5,206.4 L148,206.42 L148.5,206.44 L149,206.46 L149.5,206.48 L150,206.5 L150.5,206.52 L151,206.53 L151.5,206.55 L152,206.57 L152.5,206.58 L153,206.6 L153.5,206.61 L154,206.62 L154.5,206.64 L155,206.65 L155.5,206.66 L156,206.67 L156.5,206.67 L157,206.68 L157.5,206.69 L158,206.69 L158.5,206.69 L159,206.7 L159.5,206.7 L160,206.7" fill="none" stroke="#36a585" stroke-width="0.85" stroke-linejoin="round" />
<text x="121" y="121.6" font-size="10">S-Graphite</text>
<path d="M45,307.8 L45,307.8 L45.5,307.8 L46,307.8 L46.5,307.8 L47,307.8 L47.5,307.8 L48,307.8 L48.5,307.8 L49,307.8 L49.5,307.8 L50,307.8 L50.5,307.8 L51,307.8 L51.5,307.8 L52,307.8 L52.5,307.8 L53,307.8 L53.5,307.8 L54,307.8 L54.5,307.8 L55,307.8 L55.5,307.8 L56,307.8 L56.5,307.8 L57,307.8 L57.5,307.8 L58,307.8 L58.5,307.8 L59,307.8 L59.5,307.8 L60,307.8 L60.5,307.8 L61,307.8 L61.5,307.8 L62,307.8 L62.5,307.8 L63,307.8 L63.5,307.8 L64,307.8 L64.5,307.8 L65,307.8 L65.5,307.8 L66,307.8 L66.5,307.8 L67,307.8 L67.5,307.8 L68,307.8 L68.5,307.8 L69,307.8 L69.5,307.8 L70,307.8 L70.5,307.8 L71,307.8 L71.5,307.8 L72,307.8 L72.5,307.8 L73,307.8 L73.5,307.8 L74,307.79 L74.5,307.79 L75,307.79 L75.5,307.79 L76,307.78 L76.5,307.78 L77,307.77 L77.5,307.76 L78,307.75 L78.5,307.73 L79,307.71 L79.5,307.69 L80,307.66 L80.5,307.62 L81,307.57 L81.5,307.52 L82,307.45 L82.5,307.37 L83,307.27 L83.5,307.16 L84,307.03 L84.5,306.89 L85,306.72 L85.5,306.53 L86,306.31 L86.5,306.07 L87,305.81 L87.5,305.52 L88,305.2 L88.5,304.87 L89,304.51 L89.5,304.14 L90,303.75 L90.5,303.35 L91,302.95 L91.5,302.54 L92,302.15 L92.5,301.76 L93,301.39 L93.5,301.05 L94,300.74 L94.5,300.47 L95,300.23 L95.5,300.05 L96,299.91 L96.5,299.83 L97,299.8 L97.5,299.8 L98,299.81 L98.5,299.82 L99,299.84 L99.5,299.87 L100,299.9 L100.5,299.93 L101,299.98 L101.5,300.02 L102,300.07 L102.5,300.13 L103,300.19 L103.5,300.25 L104,300.32 L104.5,300.4 L105,300.48 L105.5,300.56 L106,300.65 L106.5,300.74 L107,300.83 L107.5,300.93 L108,301.03 L108.5,301.14 L109,301.25 L109.5,301.36 L110,301.47 L110.5,301.58 L111,301.7 L111.5,301.82 L112,301.94 L112.5,302.06 L113,302.19 L113.5,302.31 L114,302.44 L114.5,302.57 L115,302.69 L115.5,302.82 L116,302.95 L116.5,303.08 L117,303.2 L117.5,303.33 L118,303.46 L118.5,303.58 L119,303.71 L119.5,303.83 L120,303.96 L120.5,304.08 L121,304.2 L121.5,304.32 L122,304.43 L122.5,304.55 L123,304.66 L123.5,304.78 L124,304.89 L124.5,304.99 L125,305.1 L125.5,305.2 L126,305.3 L126.5,305.4 L127,305.5 L127.5,305.59 L128,305.69 L128.5,305.78 L129,305.86 L129.5,305.95 L130,306.03 L130.5,306.11 L131,306.19 L131.5,306.26 L132,306.33 L132.5,306.4 L133,306.47 L133.5,306.54 L134,306.6 L134.5,306.66 L135,306.72 L135.5,306.77 L136,306.83 L136.5,306.88 L137,306.93 L137.5,306.98 L138,307.02 L138.5,307.06 L139,307.1 L139.5,307.14 L140,307.18 L140.5,307.22 L141,307.25 L141.5,307.28 L142,307.32 L142.5,307.35 L143,307.37 L143.5,307.4 L144,307.42 L144.5,307.45 L145,307.47 L145.5,307.49 L146,307.51 L146.5,307.53 L147,307.55 L147.5,307.57 L148,307.58 L148.5,307.6 L149,307.61 L149.5,307.62 L150,307.64 L150.5,307.65 L151,307.66 L151.5,307.67 L152,307.68 L152.5,307.69 L153,307.7 L153.5,307.7 L154,307.71 L154.5,307.72 L155,307.72 L155.5,307.73 L156,307.74 L156.5,307.74 L157,307.75 L157.5,307.75 L158,307.75 L158.5,307.76 L159,307.76 L159.5,307.76 L160,307.77 L160.5,307.77 L161,307.77 L161.5,307.77 L162,307.78 L162.5,307.78 L163,307.78 L163.5,307.78 L164,307.78 L164.5,307.79 L165,307.79 L165,307.8 Z" fill="#f7a23e" stroke="none"/>
<path d="M55,307.8 L55,307.67 L55.5,307.66 L56,307.66 L56.5,307.65 L57,307.64 L57.5,307.64 L58,307.63 L58.5,307.62 L59,307.61 L59.5,307.6 L60,307.59 L60.5,307.57 L61,307.55 L61.5,307.53 L62,307.5 L62.5,307.46 L63,307.42 L63.5,307.36 L64,307.28 L64.5,307.19 L65,307.07 L65.5,306.92 L66,306.73 L66.5,306.49 L67,306.2 L67.5,305.84 L68,305.41 L68.5,304.9 L69,304.28 L69.5,303.56 L70,302.72 L70.5,301.76 L71,300.68 L71.5,299.46 L72,298.11 L72.5,296.64 L73,295.06 L73.5,293.39 L74,291.64 L74.5,289.85 L75,288.04 L75.5,286.25 L76,284.52 L76.5,282.9 L77,281.42 L77.5,280.13 L78,279.06 L78.5,278.25 L79,277.72 L79.5,277.51 L80,277.6 L80.5,278 L81,278.7 L81.5,279.67 L82,280.88 L82.5,282.29 L83,283.86 L83.5,285.55 L84,287.32 L84.5,289.12 L85,290.93 L85.5,292.7 L86,294.4 L86.5,296.02 L87,297.54 L87.5,298.93 L88,300.2 L88.5,301.34 L89,302.36 L89.5,303.24 L90,304.01 L90.5,304.66 L91,305.22 L91.5,305.68 L92,306.07 L92.5,306.38 L93,306.64 L93.5,306.85 L94,307.01 L94.5,307.14 L95,307.25 L95.5,307.33 L96,307.39 L96.5,307.45 L97,307.49 L97.5,307.52 L98,307.54 L98.5,307.56 L99,307.58 L99.5,307.59 L100,307.61 L100.5,307.62 L101,307.63 L101.5,307.63 L102,307.64 L102.5,307.65 L103,307.66 L103.5,307.66 L104,307.67 L104.5,307.67 L105,307.68 L105.5,307.68 L106,307.69 L106.5,307.69 L107,307.69 L107.5,307.7 L108,307.7 L108.5,307.7 L109,307.71 L109.5,307.71 L110,307.71 L110.5,307.72 L111,307.72 L111.5,307.72 L112,307.72 L112.5,307.72 L113,307.73 L113.5,307.73 L114,307.73 L114.5,307.73 L115,307.73 L115,307.8 Z" fill="#46d9a3" stroke="none"/>
<path d="M55,307.8 L55,307.8 L55.5,307.8 L56,307.8 L56.5,307.8 L57,307.8 L57.5,307.8 L58,307.8 L58.5,307.8 L59,307.8 L59.5,307.8 L60,307.8 L60.5,307.8 L61,307.8 L61.5,307.8 L62,307.8 L62.5,307.8 L63,307.8 L63.5,307.8 L64,307.8 L64.5,307.8 L65,307.8 L65.5,307.8 L66,307.8 L66.5,307.8 L67,307.8 L67.5,307.8 L68,307.8 L68.5,307.8 L69,307.8 L69.5,307.8 L70,307.8 L70.5,307.8 L71,307.8 L71.5,307.8 L72,307.8 L72.5,307.8 L73,307.8 L73.5,307.8 L74,307.79 L74.5,307.79 L75,307.79 L75.5,307.79 L76,307.78 L76.5,307.78 L77,307.77 L77.5,307.76 L78,307.75 L78.5,307.73 L79,307.71 L79.5,307.69 L80,307.66 L80.5,307.62 L81,307.57 L81.5,307.52 L82,307.45 L82.5,307.37 L83,307.27 L83.5,307.16 L84,307.03 L84.5,306.89 L85,306.72 L85.5,306.53 L86,306.31 L86.5,306.07 L87,305.81 L87.5,305.52 L88,305.2 L88.5,304.87 L89,304.51 L89.5,304.14 L90,304.01 L90.5,304.66 L91,305.22 L91.5,305.68 L92,306.07 L92.5,306.38 L93,306.64 L93.5,306.85 L94,307.01 L94.5,307.14 L95,307.25 L95.5,307.33 L96,307.39 L96.5,307.45 L97,307.49 L97.5,307.52 L98,307.54 L98.5,307.56 L99,307.58 L99.5,307.59 L100,307.61 L100.5,307.62 L101,307.63 L101.5,307.63 L102,307.64 L102.5,307.65 L103,307.66 L103.5,307.66 L104,307.67 L104.5,307.67 L105,307.68 L105.5,307.68 L106,307.69 L106.5,307.69 L107,307.69 L107.5,307.7 L108,307.7 L108.5,307.7 L109,307.71 L109.5,307.71 L110,307.71 L110.5,307.72 L111,307.72 L111.5,307.72 L112,307.72 L112.5,307.72 L113,307.73 L113.5,307.73 L114,307.73 L114.5,307.73 L115,307.73 L115,307.8 Z" fill="#5fb86e" stroke="none"/>
<path d="M50,307.8 L50,307.33 L50.5,307.31 L51,307.29 L51.5,307.27 L52,307.24 L52.5,307.21 L53,307.19 L53.5,307.15 L54,307.12 L54.5,307.09 L55,307.05 L55.5,307.01 L56,306.96 L56.5,306.91 L57,306.86 L57.5,306.8 L58,306.74 L58.5,306.67 L59,306.59 L59.5,306.5 L60,306.41 L60.5,306.3 L61,306.17 L61.5,306.02 L62,305.85 L62.5,305.63 L63,305.35 L63.5,305 L64,304.53 L64.5,303.9 L65,303.07 L65.5,301.96 L66,300.51 L66.5,298.63 L67,296.24 L67.5,293.27 L68,289.66 L68.5,285.41 L69,280.54 L69.5,275.14 L70,269.35 L70.5,263.41 L71,257.6 L71.5,252.31 L72,247.95 L72.5,244.94 L73,243.64 L73.5,244.2 L74,246.56 L74.5,250.43 L75,255.4 L75.5,261.05 L76,266.98 L76.5,272.86 L77,278.44 L77.5,283.54 L78,288.04 L78.5,291.9 L79,295.12 L79.5,297.74 L80,299.81 L80.5,301.43 L81,302.66 L81.5,303.6 L82,304.3 L82.5,304.82 L83,305.22 L83.5,305.53 L84,305.77 L84.5,305.96 L85,306.12 L85.5,306.25 L86,306.36 L86.5,306.47 L87,306.56 L87.5,306.64 L88,306.71 L88.5,306.78 L89,306.84 L89.5,306.89 L90,306.94 L90.5,306.99 L91,307.03 L91.5,307.07 L92,307.11 L92.5,307.14 L93,307.17 L93.5,307.2 L94,307.23 L94.5,307.26 L95,307.28 L95.5,307.3 L96,307.32 L96.5,307.34 L97,307.36 L97.5,307.38 L98,307.39 L98.5,307.41 L99,307.42 L99.5,307.44 L100,307.45 L100,307.8 Z" fill="#ff4b4b" stroke="none"/>
<path d="M50,307.8 L50,307.71 L50.5,307.7 L51,307.7 L51.5,307.7 L52,307.69 L52.5,307.69 L53,307.69 L53.5,307.68 L54,307.68 L54.5,307.67 L55,307.67 L55.5,307.66 L56,307.66 L56.5,307.65 L57,307.64 L57.5,307.64 L58,307.63 L58.5,307.62 L59,307.61 L59.5,307.6 L60,307.59 L60.5,307.57 L61,307.55 L61.5,307.53 L62,307.5 L62.5,307.46 L63,307.42 L63.5,307.36 L64,307.28 L64.5,307.19 L65,307.07 L65.5,306.92 L66,306.73 L66.5,306.49 L67,306.2 L67.5,305.84 L68,305.41 L68.5,304.9 L69,304.28 L69.5,303.56 L70,302.72 L70.5,301.76 L71,300.68 L71.5,299.46 L72,298.11 L72.5,296.64 L73,295.06 L73.5,293.39 L74,291.64 L74.5,289.85 L75,288.04 L75.5,286.25 L76,284.52 L76.5,282.9 L77,281.42 L77.5,283.54 L78,288.04 L78.5,291.9 L79,295.12 L79.5,297.74 L80,299.81 L80.5,301.43 L81,302.66 L81.5,303.6 L82,304.3 L82.5,304.82 L83,305.22 L83.5,305.53 L84,305.77 L84.5,305.96 L85,306.12 L85.5,306.25 L86,306.36 L86.5,306.47 L87,306.56 L87.5,306.64 L88,306.71 L88.5,306.78 L89,306.84 L89.5,306.89 L90,306.94 L90.5,306.99 L91,307.03 L91.5,307.07 L92,307.11 L92.5,307.14 L93,307.17 L93.5,307.2 L94,307.23 L94.5,307.26 L95,307.28 L95.5,307.33 L96,307.39 L96.5,307.45 L97,307.49 L97.5,307.52 L98,307.54 L98.5,307.56 L99,307.58 L99.5,307.59 L100,307.61 L100,307.8 Z" fill="#c4443a" stroke="none"/>
<path d="M50,307.8 L50,307.8 L50.5,307.8 L51,307.8 L51.5,307.8 L52,307.8 L52.5,307.8 L53,307.8 L53.5,307.8 L54,307.8 L54.5,307.8 L55,307.8 L55.5,307.8 L56,307.8 L56.5,307.8 L57,307.8 L57.5,307.8 L58,307.8 L58.5,307.8 L59,307.8 L59.5,307.8 L60,307.8 L60.5,307.8 L61,307.8 L61.5,307.8 L62,307.8 L62.5,307.8 L63,307.8 L63.5,307.8 L64,307.8 L64.5,307.8 L65,307.8 L65.5,307.8 L66,307.8 L66.5,307.8 L67,307.8 L67.5,307.8 L68,307.8 L68.5,307.8 L69,307.8 L69.5,307.8 L70,307.8 L70.5,307.8 L71,307.8 L71.5,307.8 L72,307.8 L72.5,307.8 L73,307.8 L73.5,307.8 L74,307.79 L74.5,307.79 L75,307.79 L75.5,307.79 L76,307.78 L76.5,307.78 L77,307.77 L77.5,307.76 L78,307.75 L78.5,307.73 L79,307.71 L79.5,307.69 L80,307.66 L80.5,307.62 L81,307.57 L81.5,307.52 L82,307.45 L82.5,307.37 L83,307.27 L83.5,307.16 L84,307.03 L84.5,306.89 L85,306.72 L85.5,306.53 L86,306.36 L86.5,306.47 L87,306.56 L87.5,306.64 L88,306.71 L88.5,306.78 L89,306.84 L89.5,306.89 L90,306.94 L90.5,306.99 L91,307.03 L91.5,307.07 L92,307.11 L92.5,307.14 L93,307.17 L93.5,307.2 L94,307.23 L94.5,307.26 L95,307.28 L95.5,307.3 L96,307.32 L96.5,307.34 L97,307.36 L97.5,307.38 L98,307.39 L98.5,307.41 L99,307.42 L99.5,307.44 L100,307.45 L100,307.8 Z" fill="#f2553a" stroke="none"/>
<path d="M36,307.36 L37,307.15 L38,307.18 L39,305.71 L40,306.82 L41,307.24 L42,305.77 L43,306.17 L44,306.15 L45,306.61 L46,306.41 L47,306.49 L48,307.03 L49,305.62 L50,305.7 L51,305.81 L52,305.79 L53,305.67 L54,307.28 L55,307.04 L56,305.5 L57,305.88 L58,305.01 L59,304.39 L60,303.75 L61,303.35 L62,302.01 L63,300.01 L64,297.69 L65,294.76 L66,288.04 L67,280.73 L68,272.46 L69,261.66 L70,250.84 L71,240.56 L72,232.06 L73,224.21 L74,222.06 L75,226.03 L76,233.8 L77,239.43 L78,245.21 L79,251.51 L80,258.55 L81,266.89 L82,273.68 L83,278.95 L84,282.1 L85,284.57 L86,287.39 L87,289.73 L88,290.5 L89,292.8 L90,294.19 L91,296.05 L92,296.82 L93,296.33 L94,297.72 L95,297.93 L96,297.32 L97,297.99 L98,297.65 L99,299.15 L100,299.13 L101,299.79 L102,299.88 L103,299.92 L104,300.28 L105,300.21 L106,299.61 L107,300.7 L108,299.86 L109,300.31 L110,301.65 L111,300.54 L112,300.83 L113,301.04 L114,302.66 L115,301.61 L116,301.55 L117,303.26 L118,302.2 L119,303.76 L120,303.72 L121,304.29 L122,304.77 L123,304.37 L124,305.04 L125,303.93 L126,305.49 L127,305.27 L128,305.86 L129,304.97 L130,306.31 L131,306.8 L132,305.37 L133,306 L134,306.57 L135,307.18 L136,306.23 L137,306.19 L138,306.35 L139,307.01 L140,307.26 L141,306.61 L142,306.56 L143,306.61 L144,306.53 L145,306.65 L146,306.05 L147,306.8 L148,307.65 L149,306.64 L150,307.25" fill="none" stroke="#222" stroke-width="0.7" stroke-linejoin="round" />
<path d="M35,306.6 L35.5,306.6 L36,306.6 L36.5,306.6 L37,306.6 L37.5,306.6 L38,306.6 L38.5,306.6 L39,306.59 L39.5,306.59 L40,306.59 L40.5,306.59 L41,306.59 L41.5,306.59 L42,306.58 L42.5,306.58 L43,306.58 L43.5,306.57 L44,306.57 L44.5,306.57 L45,306.56 L45.5,306.56 L46,306.55 L46.5,306.55 L47,306.54 L47.5,306.54 L48,306.53 L48.5,306.52 L49,306.52 L49.5,306.51 L50,306.5 L50.5,306.49 L51,306.48 L51.5,306.47 L52,306.47 L52.5,306.46 L53,306.45 L53.5,306.43 L54,306.42 L54.5,306.41 L55,306.4 L55.5,306.35 L56,306.25 L56.5,306.08 L57,305.87 L57.5,305.62 L58,305.35 L58.5,305.04 L59,304.73 L59.5,304.4 L60,304.02 L60.5,303.59 L61,303.09 L61.5,302.51 L62,301.86 L62.5,301.11 L63,300.26 L63.5,299.31 L64,298.24 L64.5,297.03 L65,295.06 L65.5,292.22 L66,288.71 L66.5,284.78 L67,280.63 L67.5,276.5 L68,272.07 L68.5,267.1 L69,261.87 L69.5,256.7 L70,251.6 L70.5,246.3 L71,241.14 L71.5,236.46 L72,232.29 L72.5,227.88 L73,224.02 L73.5,221.64 L74,221.55 L74.5,223.31 L75,226.25 L75.5,229.76 L76,233.25 L76.5,236.25 L77,239.21 L77.5,242.24 L78,245.34 L78.5,248.5 L79,251.74 L79.5,255.03 L80,258.55 L80.5,262.48 L81,266.52 L81.5,270.4 L82,273.82 L82.5,276.5 L83,278.6 L83.5,280.48 L84,282.17 L84.5,283.68 L85,285.03 L85.5,286.24 L86,287.32 L86.5,288.37 L87,289.38 L87.5,290.35 L88,291.27 L88.5,292.13 L89,292.94 L89.5,293.67 L90,294.32 L90.5,294.89 L91,295.37 L91.5,295.74 L92,296.03 L92.5,296.3 L93,296.56 L93.5,296.79 L94,297.01 L94.5,297.21 L95,297.4 L95.5,297.58 L96,297.75 L96.5,297.9 L97,298.05 L97.5,298.19 L98,298.33 L98.5,298.46 L99,298.59 L99.5,298.71 L100,298.84 L100.5,298.96 L101,299.09 L101.5,299.22 L102,299.35 L102.5,299.49 L103,299.61 L103.5,299.74 L104,299.86 L104.5,299.98 L105,300.1 L105.5,300.21 L106,300.32 L106.5,300.43 L107,300.54 L107.5,300.64 L108,300.75 L108.5,300.85 L109,300.95 L109.5,301.06 L110,301.16 L110.5,301.26 L111,301.36 L111.5,301.46 L112,301.56 L112.5,301.66 L113,301.77 L113.5,301.87 L114,301.97 L114.5,302.08 L115,302.19 L115.5,302.3 L116,302.41 L116.5,302.52 L117,302.64 L117.5,302.76 L118,302.89 L118.5,303.01 L119,303.14 L119.5,303.28 L120,303.41 L120.5,303.55 L121,303.68 L121.5,303.82 L122,303.96 L122.5,304.09 L123,304.23 L123.5,304.36 L124,304.5 L124.5,304.63 L125,304.76 L125.5,304.89 L126,305.01 L126.5,305.13 L127,305.25 L127.5,305.36 L128,305.47 L128.5,305.58 L129,305.68 L129.5,305.77 L130,305.86 L130.5,305.94 L131,306.01 L131.5,306.09 L132,306.16 L132.5,306.24 L133,306.31 L133.5,306.39 L134,306.46 L134.5,306.53 L135,306.59 L135.5,306.64 L136,306.69 L136.5,306.73 L137,306.77 L137.5,306.79 L138,306.8 L138.5,306.8 L139,306.8 L139.5,306.8 L140,306.8 L140.5,306.8 L141,306.8 L141.5,306.8 L142,306.8 L142.5,306.8 L143,306.8 L143.5,306.8 L144,306.8 L144.5,306.8 L145,306.8 L145.5,306.8 L146,306.8 L146.5,306.8 L147,306.8 L147.5,306.8 L148,306.8 L148.5,306.8 L149,306.8 L149.5,306.8 L150,306.8 L150.5,306.8 L151,306.8 L151.5,306.8 L152,306.8 L152.5,306.8 L153,306.8 L153.5,306.8 L154,306.8 L154.5,306.8 L155,306.8 L155.5,306.8 L156,306.8 L156.5,306.8 L157,306.8 L157.5,306.8 L158,306.8 L158.5,306.8 L159,306.8 L159.5,306.8 L160,306.8" fill="none" stroke="#d03030" stroke-width="0.85" stroke-linejoin="round" />
<text x="119.4" y="222.9" font-size="10">W-Graphite</text>
<path d="M45,408.1 L45,408.1 L45.5,408.1 L46,408.1 L46.5,408.1 L47,408.1 L47.5,408.1 L48,408.1 L48.5,408.1 L49,408.1 L49.5,408.1 L50,408.1 L50.5,408.1 L51,408.1 L51.5,408.1 L52,408.1 L52.5,408.1 L53,408.1 L53.5,408.1 L54,408.1 L54.5,408.1 L55,408.1 L55.5,408.1 L56,408.1 L56.5,408.1 L57,408.1 L57.5,408.1 L58,408.1 L58.5,408.1 L59,408.1 L59.5,408.1 L60,408.1 L60.5,408.1 L61,408.1 L61.5,408.1 L62,408.1 L62.5,408.1 L63,408.1 L63.5,408.1 L64,408.1 L64.5,408.1 L65,408.1 L65.5,408.1 L66,408.1 L66.5,408.1 L67,408.1 L67.5,408.1 L68,408.1 L68.5,408.1 L69,408.1 L69.5,408.1 L70,408.1 L70.5,408.1 L71,408.1 L71.5,408.1 L72,408.1 L72.5,408.1 L73,408.09 L73.5,408.09 L74,408.09 L74.5,408.09 L75,408.08 L75.5,408.08 L76,408.07 L76.5,408.07 L77,408.06 L77.5,408.04 L78,408.03 L78.5,408.01 L79,407.99 L79.5,407.97 L80,407.94 L80.5,407.9 L81,407.86 L81.5,407.8 L82,407.74 L82.5,407.67 L83,407.59 L83.5,407.5 L84,407.39 L84.5,407.26 L85,407.12 L85.5,406.96 L86,406.79 L86.5,406.59 L87,406.37 L87.5,406.13 L88,405.87 L88.5,405.58 L89,405.28 L89.5,404.95 L90,404.6 L90.5,404.24 L91,403.86 L91.5,403.46 L92,403.05 L92.5,402.64 L93,402.22 L93.5,401.8 L94,401.38 L94.5,400.98 L95,400.58 L95.5,400.21 L96,399.86 L96.5,399.54 L97,399.25 L97.5,399 L98,398.79 L98.5,398.62 L99,398.5 L99.5,398.42 L100,398.4 L100.5,398.4 L101,398.41 L101.5,398.43 L102,398.45 L102.5,398.48 L103,398.51 L103.5,398.55 L104,398.59 L104.5,398.64 L105,398.7 L105.5,398.76 L106,398.83 L106.5,398.9 L107,398.98 L107.5,399.06 L108,399.15 L108.5,399.24 L109,399.33 L109.5,399.43 L110,399.54 L110.5,399.65 L111,399.76 L111.5,399.88 L112,400 L112.5,400.12 L113,400.25 L113.5,400.38 L114,400.51 L114.5,400.64 L115,400.78 L115.5,400.92 L116,401.06 L116.5,401.2 L117,401.34 L117.5,401.49 L118,401.63 L118.5,401.78 L119,401.92 L119.5,402.07 L120,402.22 L120.5,402.36 L121,402.51 L121.5,402.66 L122,402.8 L122.5,402.95 L123,403.09 L123.5,403.24 L124,403.38 L124.5,403.52 L125,403.66 L125.5,403.8 L126,403.93 L126.5,404.07 L127,404.2 L127.5,404.33 L128,404.46 L128.5,404.59 L129,404.71 L129.5,404.83 L130,404.95 L130.5,405.07 L131,405.18 L131.5,405.29 L132,405.4 L132.5,405.51 L133,405.61 L133.5,405.71 L134,405.81 L134.5,405.91 L135,406 L135.5,406.09 L136,406.18 L136.5,406.27 L137,406.35 L137.5,406.43 L138,406.5 L138.5,406.58 L139,406.65 L139.5,406.72 L140,406.79 L140.5,406.85 L141,406.91 L141.5,406.97 L142,407.03 L142.5,407.09 L143,407.14 L143.5,407.19 L144,407.24 L144.5,407.28 L145,407.33 L145.5,407.37 L146,407.41 L146.5,407.45 L147,407.49 L147.5,407.52 L148,407.56 L148.5,407.59 L149,407.62 L149.5,407.65 L150,407.67 L150.5,407.7 L151,407.72 L151.5,407.75 L152,407.77 L152.5,407.79 L153,407.81 L153.5,407.83 L154,407.85 L154.5,407.86 L155,407.88 L155.5,407.89 L156,407.91 L156.5,407.92 L157,407.93 L157.5,407.94 L158,407.96 L158.5,407.97 L159,407.97 L159.5,407.98 L160,407.99 L160.5,408 L161,408.01 L161.5,408.01 L162,408.02 L162.5,408.03 L163,408.03 L163.5,408.04 L164,408.04 L164.5,408.05 L165,408.05 L165,408.1 Z" fill="#f7a23e" stroke="none"/>
<path d="M55,408.1 L55,407.94 L55.5,407.93 L56,407.93 L56.5,407.92 L57,407.91 L57.5,407.9 L58,407.89 L58.5,407.87 L59,407.86 L59.5,407.84 L60,407.81 L60.5,407.78 L61,407.75 L61.5,407.7 L62,407.65 L62.5,407.58 L63,407.5 L63.5,407.41 L64,407.29 L64.5,407.15 L65,406.98 L65.5,406.78 L66,406.53 L66.5,406.25 L67,405.91 L67.5,405.52 L68,405.07 L68.5,404.55 L69,403.96 L69.5,403.3 L70,402.55 L70.5,401.72 L71,400.8 L71.5,399.8 L72,398.72 L72.5,397.56 L73,396.32 L73.5,395.02 L74,393.67 L74.5,392.28 L75,390.87 L75.5,389.46 L76,388.05 L76.5,386.69 L77,385.38 L77.5,384.15 L78,383.03 L78.5,382.03 L79,381.19 L79.5,380.51 L80,380.01 L80.5,379.7 L81,379.6 L81.5,379.7 L82,380.01 L82.5,380.51 L83,381.19 L83.5,382.03 L84,383.03 L84.5,384.15 L85,385.38 L85.5,386.69 L86,388.05 L86.5,389.46 L87,390.87 L87.5,392.28 L88,393.67 L88.5,395.02 L89,396.32 L89.5,397.56 L90,398.72 L90.5,399.8 L91,400.8 L91.5,401.72 L92,402.55 L92.5,403.3 L93,403.96 L93.5,404.55 L94,405.07 L94.5,405.52 L95,405.91 L95.5,406.25 L96,406.53 L96.5,406.78 L97,406.98 L97.5,407.15 L98,407.29 L98.5,407.41 L99,407.5 L99.5,407.58 L100,407.65 L100.5,407.7 L101,407.75 L101.5,407.78 L102,407.81 L102.5,407.84 L103,407.86 L103.5,407.87 L104,407.89 L104.5,407.9 L105,407.91 L105.5,407.92 L106,407.93 L106.5,407.93 L107,407.94 L107.5,407.95 L108,407.95 L108.5,407.96 L109,407.96 L109.5,407.97 L110,407.97 L110.5,407.98 L111,407.98 L111.5,407.98 L112,407.99 L112.5,407.99 L113,407.99 L113.5,408 L114,408 L114.5,408 L115,408.01 L115,408.1 Z" fill="#46d9a3" stroke="none"/>
<path d="M55,408.1 L55,408.1 L55.5,408.1 L56,408.1 L56.5,408.1 L57,408.1 L57.5,408.1 L58,408.1 L58.5,408.1 L59,408.1 L59.5,408.1 L60,408.1 L60.5,408.1 L61,408.1 L61.5,408.1 L62,408.1 L62.5,408.1 L63,408.1 L63.5,408.1 L64,408.1 L64.5,408.1 L65,408.1 L65.5,408.1 L66,408.1 L66.5,408.1 L67,408.1 L67.5,408.1 L68,408.1 L68.5,408.1 L69,408.1 L69.5,408.1 L70,408.1 L70.5,408.1 L71,408.1 L71.5,408.1 L72,408.1 L72.5,408.1 L73,408.09 L73.5,408.09 L74,408.09 L74.5,408.09 L75,408.08 L75.5,408.08 L76,408.07 L76.5,408.07 L77,408.06 L77.5,408.04 L78,408.03 L78.5,408.01 L79,407.99 L79.5,407.97 L80,407.94 L80.5,407.9 L81,407.86 L81.5,407.8 L82,407.74 L82.5,407.67 L83,407.59 L83.5,407.5 L84,407.39 L84.5,407.26 L85,407.12 L85.5,406.96 L86,406.79 L86.5,406.59 L87,406.37 L87.5,406.13 L88,405.87 L88.5,405.58 L89,405.28 L89.5,404.95 L90,404.6 L90.5,404.24 L91,403.86 L91.5,403.46 L92,403.05 L92.5,403.3 L93,403.96 L93.5,404.55 L94,405.07 L94.5,405.52 L95,405.91 L95.5,406.25 L96,406.53 L96.5,406.78 L97,406.98 L97.5,407.15 L98,407.29 L98.5,407.41 L99,407.5 L99.5,407.58 L100,407.65 L100.5,407.7 L101,407.75 L101.5,407.78 L102,407.81 L102.5,407.84 L103,407.86 L103.5,407.87 L104,407.89 L104.5,407.9 L105,407.91 L105.5,407.92 L106,407.93 L106.5,407.93 L107,407.94 L107.5,407.95 L108,407.95 L108.5,407.96 L109,407.96 L109.5,407.97 L110,407.97 L110.5,407.98 L111,407.98 L111.5,407.98 L112,407.99 L112.5,407.99 L113,407.99 L113.5,408 L114,408 L114.5,408 L115,408.01 L115,408.1 Z" fill="#5fb86e" stroke="none"/>
<path d="M50,408.1 L50,407.61 L50.5,407.58 L51,407.56 L51.5,407.54 L52,407.51 L52.5,407.49 L53,407.46 L53.5,407.43 L54,407.39 L54.5,407.36 L55,407.32 L55.5,407.28 L56,407.23 L56.5,407.18 L57,407.13 L57.5,407.07 L58,407.01 L58.5,406.94 L59,406.87 L59.5,406.78 L60,406.69 L60.5,406.59 L61,406.47 L61.5,406.33 L62,406.17 L62.5,405.97 L63,405.73 L63.5,405.43 L64,405.03 L64.5,404.52 L65,403.83 L65.5,402.93 L66,401.75 L66.5,400.21 L67,398.24 L67.5,395.76 L68,392.71 L68.5,389.03 L69,384.72 L69.5,379.8 L70,374.35 L70.5,368.51 L71,362.5 L71.5,356.58 L72,351.1 L72.5,346.45 L73,343.04 L73.5,341.23 L74,341.23 L74.5,343.04 L75,346.45 L75.5,351.1 L76,356.58 L76.5,362.5 L77,368.51 L77.5,374.35 L78,379.8 L78.5,384.72 L79,389.03 L79.5,392.71 L80,395.76 L80.5,398.24 L81,400.21 L81.5,401.75 L82,402.93 L82.5,403.83 L83,404.52 L83.5,405.03 L84,405.43 L84.5,405.73 L85,405.97 L85.5,406.17 L86,406.33 L86.5,406.47 L87,406.59 L87.5,406.69 L88,406.78 L88.5,406.87 L89,406.94 L89.5,407.01 L90,407.07 L90.5,407.13 L91,407.18 L91.5,407.23 L92,407.28 L92.5,407.32 L93,407.36 L93.5,407.39 L94,407.43 L94.5,407.46 L95,407.49 L95.5,407.51 L96,407.54 L96.5,407.56 L97,407.58 L97.5,407.61 L98,407.63 L98.5,407.64 L99,407.66 L99.5,407.68 L100,407.69 L100,408.1 Z" fill="#ff4b4b" stroke="none"/>
<path d="M50,408.1 L50,407.99 L50.5,407.98 L51,407.98 L51.5,407.98 L52,407.97 L52.5,407.97 L53,407.96 L53.5,407.96 L54,407.95 L54.5,407.95 L55,407.94 L55.5,407.93 L56,407.93 L56.5,407.92 L57,407.91 L57.5,407.9 L58,407.89 L58.5,407.87 L59,407.86 L59.5,407.84 L60,407.81 L60.5,407.78 L61,407.75 L61.5,407.7 L62,407.65 L62.5,407.58 L63,407.5 L63.5,407.41 L64,407.29 L64.5,407.15 L65,406.98 L65.5,406.78 L66,406.53 L66.5,406.25 L67,405.91 L67.5,405.52 L68,405.07 L68.5,404.55 L69,403.96 L69.5,403.3 L70,402.55 L70.5,401.72 L71,400.8 L71.5,399.8 L72,398.72 L72.5,397.56 L73,396.32 L73.5,395.02 L74,393.67 L74.5,392.28 L75,390.87 L75.5,389.46 L76,388.05 L76.5,386.69 L77,385.38 L77.5,384.15 L78,383.03 L78.5,384.72 L79,389.03 L79.5,392.71 L80,395.76 L80.5,398.24 L81,400.21 L81.5,401.75 L82,402.93 L82.5,403.83 L83,404.52 L83.5,405.03 L84,405.43 L84.5,405.73 L85,405.97 L85.5,406.17 L86,406.33 L86.5,406.47 L87,406.59 L87.5,406.69 L88,406.78 L88.5,406.87 L89,406.94 L89.5,407.01 L90,407.07 L90.5,407.13 L91,407.18 L91.5,407.23 L92,407.28 L92.5,407.32 L93,407.36 L93.5,407.39 L94,407.43 L94.5,407.46 L95,407.49 L95.5,407.51 L96,407.54 L96.5,407.56 L97,407.58 L97.5,407.61 L98,407.63 L98.5,407.64 L99,407.66 L99.5,407.68 L100,407.69 L100,408.1 Z" fill="#c4443a" stroke="none"/>
<path d="M50,408.1 L50,408.1 L50.5,408.1 L51,408.1 L51.5,408.1 L52,408.1 L52.5,408.1 L53,408.1 L53.5,408.1 L54,408.1 L54.5,408.1 L55,408.1 L55.5,408.1 L56,408.1 L56.5,408.1 L57,408.1 L57.5,408.1 L58,408.1 L58.5,408.1 L59,408.1 L59.5,408.1 L60,408.1 L60.5,408.1 L61,408.1 L61.5,408.1 L62,408.1 L62.5,408.1 L63,408.1 L63.5,408.1 L64,408.1 L64.5,408.1 L65,408.1 L65.5,408.1 L66,408.1 L66.5,408.1 L67,408.1 L67.5,408.1 L68,408.1 L68.5,408.1 L69,408.1 L69.5,408.1 L70,408.1 L70.5,408.1 L71,408.1 L71.5,408.1 L72,408.1 L72.5,408.1 L73,408.09 L73.5,408.09 L74,408.09 L74.5,408.09 L75,408.08 L75.5,408.08 L76,408.07 L76.5,408.07 L77,408.06 L77.5,408.04 L78,408.03 L78.5,408.01 L79,407.99 L79.5,407.97 L80,407.94 L80.5,407.9 L81,407.86 L81.5,407.8 L82,407.74 L82.5,407.67 L83,407.59 L83.5,407.5 L84,407.39 L84.5,407.26 L85,407.12 L85.5,406.96 L86,406.79 L86.5,406.59 L87,406.59 L87.5,406.69 L88,406.78 L88.5,406.87 L89,406.94 L89.5,407.01 L90,407.07 L90.5,407.13 L91,407.18 L91.5,407.23 L92,407.28 L92.5,407.32 L93,407.36 L93.5,407.39 L94,407.43 L94.5,407.46 L95,407.49 L95.5,407.51 L96,407.54 L96.5,407.56 L97,407.58 L97.5,407.61 L98,407.63 L98.5,407.64 L99,407.66 L99.5,407.68 L100,407.69 L100,408.1 Z" fill="#f2553a" stroke="none"/>
<path d="M36,406.19 L37,407.14 L38,407.26 L39,407.11 L40,406.83 L41,406.76 L42,407.05 L43,407.5 L44,406.15 L45,406.05 L46,407.22 L47,407.52 L48,406.8 L49,406.66 L50,407.14 L51,406.18 L52,406.31 L53,406.18 L54,406.87 L55,406.37 L56,406.04 L57,406.42 L58,406.24 L59,404.26 L60,404.14 L61,402.7 L62,402.36 L63,400.39 L64,397.84 L65,394.47 L66,387.57 L67,380.36 L68,372.47 L69,363.91 L70,355.45 L71,344.94 L72,336.03 L73,327.56 L74,323.78 L75,322.97 L76,326.83 L77,331.93 L78,338.81 L79,347.88 L80,355.8 L81,361.93 L82,367.84 L83,372.56 L84,375.4 L85,379.35 L86,382.75 L87,384.45 L88,386.18 L89,387.89 L90,390.19 L91,391.37 L92,392.97 L93,393.74 L94,393.46 L95,394.09 L96,394.88 L97,395.35 L98,396.84 L99,397.61 L100,398.14 L101,397.37 L102,398.82 L103,398.15 L104,398.64 L105,399.45 L106,398.55 L107,398.79 L108,400.35 L109,399.58 L110,399.9 L111,400.5 L112,400.87 L113,399.87 L114,400.67 L115,401.06 L116,401.38 L117,401.12 L118,402.05 L119,402.98 L120,402.24 L121,402.79 L122,402.3 L123,402.85 L124,403.83 L125,403.1 L126,404.75 L127,405.04 L128,403.81 L129,405.54 L130,404.72 L131,405.61 L132,405.75 L133,405.08 L134,405.94 L135,406.06 L136,406.5 L137,405.68 L138,406.71 L139,407.22 L140,406.82 L141,406.69 L142,406.02 L143,406.78 L144,406.59 L145,407.28 L146,407.23 L147,407.04 L148,406.36 L149,407.2 L150,407.19" fill="none" stroke="#222" stroke-width="0.7" stroke-linejoin="round" />
<path d="M35,406.8 L35.5,406.8 L36,406.8 L36.5,406.8 L37,406.8 L37.5,406.8 L38,406.8 L38.5,406.8 L39,406.8 L39.5,406.8 L40,406.8 L40.5,406.79 L41,406.79 L41.5,406.79 L42,406.79 L42.5,406.79 L43,406.79 L43.5,406.79 L44,406.78 L44.5,406.78 L45,406.78 L45.5,406.78 L46,406.78 L46.5,406.77 L47,406.77 L47.5,406.77 L48,406.76 L48.5,406.76 L49,406.76 L49.5,406.75 L50,406.75 L50.5,406.75 L51,406.74 L51.5,406.74 L52,406.73 L52.5,406.73 L53,406.72 L53.5,406.72 L54,406.71 L54.5,406.71 L55,406.7 L55.5,406.65 L56,406.53 L56.5,406.33 L57,406.08 L57.5,405.77 L58,405.42 L58.5,405.04 L59,404.63 L59.5,404.21 L60,403.77 L60.5,403.33 L61,402.86 L61.5,402.33 L62,401.73 L62.5,401.04 L63,400.24 L63.5,399.32 L64,398.26 L64.5,397.02 L65,394.97 L65.5,392.02 L66,388.43 L66.5,384.47 L67,380.4 L67.5,376.5 L68,372.68 L68.5,368.67 L69,364.5 L69.5,360.17 L70,355.7 L70.5,350.71 L71,345.26 L71.5,339.99 L72,335.54 L72.5,331.87 L73,328.2 L73.5,325.03 L74,322.9 L74.5,322.32 L75,323.01 L75.5,324.52 L76,326.65 L76.5,329.21 L77,331.99 L77.5,334.8 L78,338.21 L78.5,342.56 L79,347.3 L79.5,351.86 L80,355.7 L80.5,358.91 L81,361.96 L81.5,364.81 L82,367.44 L82.5,369.82 L83,371.92 L83.5,373.79 L84,375.58 L84.5,377.3 L85,378.93 L85.5,380.47 L86,381.92 L86.5,383.27 L87,384.51 L87.5,385.65 L88,386.67 L88.5,387.57 L89,388.37 L89.5,389.11 L90,389.8 L90.5,390.45 L91,391.05 L91.5,391.62 L92,392.15 L92.5,392.64 L93,393.1 L93.5,393.53 L94,393.93 L94.5,394.3 L95,394.65 L95.5,394.99 L96,395.31 L96.5,395.62 L97,395.92 L97.5,396.2 L98,396.47 L98.5,396.73 L99,396.97 L99.5,397.2 L100,397.42 L100.5,397.62 L101,397.82 L101.5,398 L102,398.17 L102.5,398.33 L103,398.48 L103.5,398.63 L104,398.77 L104.5,398.91 L105,399.04 L105.5,399.17 L106,399.29 L106.5,399.41 L107,399.52 L107.5,399.64 L108,399.74 L108.5,399.85 L109,399.95 L109.5,400.06 L110,400.16 L110.5,400.26 L111,400.36 L111.5,400.46 L112,400.55 L112.5,400.65 L113,400.76 L113.5,400.86 L114,400.96 L114.5,401.07 L115,401.18 L115.5,401.29 L116,401.41 L116.5,401.52 L117,401.65 L117.5,401.77 L118,401.9 L118.5,402.03 L119,402.16 L119.5,402.3 L120,402.43 L120.5,402.57 L121,402.71 L121.5,402.85 L122,402.98 L122.5,403.12 L123,403.26 L123.5,403.4 L124,403.53 L124.5,403.67 L125,403.8 L125.5,403.93 L126,404.05 L126.5,404.18 L127,404.3 L127.5,404.42 L128,404.53 L128.5,404.64 L129,404.75 L129.5,404.85 L130,404.94 L130.5,405.03 L131,405.12 L131.5,405.2 L132,405.28 L132.5,405.37 L133,405.45 L133.5,405.54 L134,405.62 L134.5,405.7 L135,405.78 L135.5,405.87 L136,405.95 L136.5,406.02 L137,406.1 L137.5,406.18 L138,406.25 L138.5,406.32 L139,406.39 L139.5,406.45 L140,406.51 L140.5,406.57 L141,406.62 L141.5,406.67 L142,406.72 L142.5,406.76 L143,406.8 L143.5,406.83 L144,406.85 L144.5,406.88 L145,406.89 L145.5,406.9 L146,406.91 L146.5,406.91 L147,406.92 L147.5,406.92 L148,406.93 L148.5,406.94 L149,406.94 L149.5,406.95 L150,406.95 L150.5,406.96 L151,406.96 L151.5,406.96 L152,406.97 L152.5,406.97 L153,406.98 L153.5,406.98 L154,406.98 L154.5,406.98 L155,406.99 L155.5,406.99 L156,406.99 L156.5,406.99 L157,407 L157.5,407 L158,407 L158.5,407 L159,407 L159.5,407 L160,407" fill="none" stroke="#3a8cc8" stroke-width="0.85" stroke-linejoin="round" />
<text x="120.3" y="324.4" font-size="10">C-Graphite</text>
<text x="24.6" y="19.8" font-size="10" letter-spacing="-0.7">C1s</text>
<text x="80.6" y="38.1" font-size="10">C-C/ C=C</text>
<text x="92" y="75.4" font-size="10">C-O</text>
<text x="118.9" y="91.2" font-size="10">C=O</text>
<path d="M222,106.7 H345" stroke="#e8304a" stroke-width="1.6"/>
<path d="M225,107 L225,106.88 L225.5,106.87 L226,106.87 L226.5,106.87 L227,106.87 L227.5,106.86 L228,106.86 L228.5,106.86 L229,106.86 L229.5,106.85 L230,106.85 L230.5,106.85 L231,106.84 L231.5,106.84 L232,106.84 L232.5,106.83 L233,106.83 L233.5,106.83 L234,106.82 L234.5,106.82 L235,106.81 L235.5,106.81 L236,106.81 L236.5,106.8 L237,106.8 L237.5,106.79 L238,106.79 L238.5,106.78 L239,106.78 L239.5,106.77 L240,106.76 L240.5,106.76 L241,106.75 L241.5,106.75 L242,106.74 L242.5,106.73 L243,106.72 L243.5,106.72 L244,106.71 L244.5,106.7 L245,106.69 L245.5,106.68 L246,106.67 L246.5,106.66 L247,106.65 L247.5,106.64 L248,106.62 L248.5,106.61 L249,106.6 L249.5,106.58 L250,106.56 L250.5,106.54 L251,106.52 L251.5,106.5 L252,106.47 L252.5,106.44 L253,106.41 L253.5,106.38 L254,106.34 L254.5,106.29 L255,106.24 L255.5,106.19 L256,106.13 L256.5,106.06 L257,105.98 L257.5,105.89 L258,105.79 L258.5,105.68 L259,105.56 L259.5,105.43 L260,105.28 L260.5,105.11 L261,104.93 L261.5,104.73 L262,104.51 L262.5,104.27 L263,104.01 L263.5,103.73 L264,103.43 L264.5,103.11 L265,102.76 L265.5,102.4 L266,102.01 L266.5,101.6 L267,101.17 L267.5,100.72 L268,100.26 L268.5,99.78 L269,99.29 L269.5,98.8 L270,98.29 L270.5,97.79 L271,97.28 L271.5,96.79 L272,96.3 L272.5,95.84 L273,95.39 L273.5,94.97 L274,94.59 L274.5,94.25 L275,93.95 L275.5,93.7 L276,93.51 L276.5,93.38 L277,93.31 L277.5,93.31 L278,93.36 L278.5,93.48 L279,93.66 L279.5,93.9 L280,94.18 L280.5,94.52 L281,94.89 L281.5,95.31 L282,95.75 L282.5,96.21 L283,96.69 L283.5,97.18 L284,97.69 L284.5,98.19 L285,98.7 L285.5,99.19 L286,99.69 L286.5,100.17 L287,100.63 L287.5,101.08 L288,101.51 L288.5,101.93 L289,102.32 L289.5,102.69 L290,103.04 L290.5,103.37 L291,103.67 L291.5,103.96 L292,104.22 L292.5,104.46 L293,104.69 L293.5,104.89 L294,105.08 L294.5,105.25 L295,105.4 L295.5,105.54 L296,105.66 L296.5,105.77 L297,105.87 L297.5,105.96 L298,106.04 L298.5,106.11 L299,106.18 L299.5,106.23 L300,106.28 L300.5,106.33 L301,106.37 L301.5,106.4 L302,106.44 L302.5,106.47 L303,106.49 L303.5,106.52 L304,106.54 L304.5,106.56 L305,106.58 L305.5,106.59 L306,106.61 L306.5,106.62 L307,106.63 L307.5,106.65 L308,106.66 L308.5,106.67 L309,106.68 L309.5,106.69 L310,106.7 L310.5,106.71 L311,106.72 L311.5,106.72 L312,106.73 L312.5,106.74 L313,106.74 L313.5,106.75 L314,106.76 L314.5,106.76 L315,106.77 L315.5,106.78 L316,106.78 L316.5,106.79 L317,106.79 L317.5,106.8 L318,106.8 L318.5,106.81 L319,106.81 L319.5,106.81 L320,106.82 L320.5,106.82 L321,106.83 L321.5,106.83 L322,106.83 L322.5,106.84 L323,106.84 L323.5,106.84 L324,106.85 L324.5,106.85 L325,106.85 L325.5,106.86 L326,106.86 L326.5,106.86 L327,106.86 L327.5,106.87 L328,106.87 L328.5,106.87 L329,106.87 L329.5,106.88 L330,106.88 L330.5,106.88 L331,106.88 L331.5,106.89 L332,106.89 L332.5,106.89 L333,106.89 L333.5,106.89 L334,106.89 L334.5,106.9 L335,106.9 L335,107 Z" fill="#74c8f2" stroke="none"/>
<path d="M225,107 L225,106.32 L225.5,106.3 L226,106.29 L226.5,106.27 L227,106.25 L227.5,106.23 L228,106.22 L228.5,106.2 L229,106.18 L229.5,106.15 L230,106.13 L230.5,106.11 L231,106.09 L231.5,106.06 L232,106.04 L232.5,106.01 L233,105.98 L233.5,105.95 L234,105.92 L234.5,105.89 L235,105.86 L235.5,105.82 L236,105.79 L236.5,105.75 L237,105.71 L237.5,105.67 L238,105.62 L238.5,105.58 L239,105.53 L239.5,105.47 L240,105.42 L240.5,105.36 L241,105.29 L241.5,105.22 L242,105.15 L242.5,105.07 L243,104.98 L243.5,104.88 L244,104.77 L244.5,104.64 L245,104.51 L245.5,104.35 L246,104.18 L246.5,103.98 L247,103.75 L247.5,103.5 L248,103.21 L248.5,102.87 L249,102.49 L249.5,102.06 L250,101.57 L250.5,101.01 L251,100.37 L251.5,99.66 L252,98.85 L252.5,97.95 L253,96.94 L253.5,95.82 L254,94.58 L254.5,93.22 L255,91.72 L255.5,90.09 L256,88.32 L256.5,86.42 L257,84.38 L257.5,82.2 L258,79.91 L258.5,77.5 L259,74.98 L259.5,72.38 L260,69.7 L260.5,66.98 L261,64.23 L261.5,61.49 L262,58.78 L262.5,56.15 L263,53.61 L263.5,51.23 L264,49.03 L264.5,47.07 L265,45.37 L265.5,43.99 L266,42.95 L266.5,42.29 L267,42.01 L267.5,42.12 L268,42.59 L268.5,43.41 L269,44.57 L269.5,46.04 L270,47.8 L270.5,49.82 L271,52.07 L271.5,54.5 L272,57.09 L272.5,59.8 L273,62.59 L273.5,65.43 L274,68.28 L274.5,71.12 L275,73.91 L275.5,76.64 L276,79.28 L276.5,81.81 L277,84.22 L277.5,86.5 L278,88.63 L278.5,90.61 L279,92.45 L279.5,94.13 L280,95.66 L280.5,97.05 L281,98.3 L281.5,99.42 L282,100.41 L282.5,101.29 L283,102.06 L283.5,102.74 L284,103.32 L284.5,103.83 L285,104.26 L285.5,104.63 L286,104.95 L286.5,105.22 L287,105.45 L287.5,105.64 L288,105.8 L288.5,105.94 L289,106.05 L289.5,106.15 L290,106.23 L290.5,106.29 L291,106.35 L291.5,106.4 L292,106.44 L292.5,106.47 L293,106.5 L293.5,106.53 L294,106.55 L294.5,106.57 L295,106.59 L295.5,106.61 L296,106.62 L296.5,106.64 L297,106.65 L297.5,106.66 L298,106.67 L298.5,106.68 L299,106.69 L299.5,106.7 L300,106.71 L300.5,106.72 L301,106.73 L301.5,106.73 L302,106.74 L302.5,106.75 L303,106.75 L303.5,106.76 L304,106.77 L304.5,106.77 L305,106.78 L305.5,106.78 L306,106.79 L306.5,106.79 L307,106.8 L307.5,106.8 L308,106.81 L308.5,106.81 L309,106.82 L309.5,106.82 L310,106.82 L310.5,106.83 L311,106.83 L311.5,106.84 L312,106.84 L312.5,106.84 L313,106.85 L313.5,106.85 L314,106.85 L314.5,106.86 L315,106.86 L315.5,106.86 L316,106.86 L316.5,106.87 L317,106.87 L317.5,106.87 L318,106.87 L318.5,106.88 L319,106.88 L319.5,106.88 L320,106.88 L320.5,106.89 L321,106.89 L321.5,106.89 L322,106.89 L322.5,106.89 L323,106.9 L323.5,106.9 L324,106.9 L324.5,106.9 L325,106.9 L325.5,106.9 L326,106.91 L326.5,106.91 L327,106.91 L327.5,106.91 L328,106.91 L328.5,106.91 L329,106.91 L329.5,106.92 L330,106.92 L330.5,106.92 L331,106.92 L331.5,106.92 L332,106.92 L332.5,106.92 L333,106.92 L333.5,106.93 L334,106.93 L334.5,106.93 L335,106.93 L335,107 Z" fill="#ff84f2" stroke="none"/>
<path d="M225,107 L225,106.88 L225.5,106.87 L226,106.87 L226.5,106.87 L227,106.87 L227.5,106.86 L228,106.86 L228.5,106.86 L229,106.86 L229.5,106.85 L230,106.85 L230.5,106.85 L231,106.84 L231.5,106.84 L232,106.84 L232.5,106.83 L233,106.83 L233.5,106.83 L234,106.82 L234.5,106.82 L235,106.81 L235.5,106.81 L236,106.81 L236.5,106.8 L237,106.8 L237.5,106.79 L238,106.79 L238.5,106.78 L239,106.78 L239.5,106.77 L240,106.76 L240.5,106.76 L241,106.75 L241.5,106.75 L242,106.74 L242.5,106.73 L243,106.72 L243.5,106.72 L244,106.71 L244.5,106.7 L245,106.69 L245.5,106.68 L246,106.67 L246.5,106.66 L247,106.65 L247.5,106.64 L248,106.62 L248.5,106.61 L249,106.6 L249.5,106.58 L250,106.56 L250.5,106.54 L251,106.52 L251.5,106.5 L252,106.47 L252.5,106.44 L253,106.41 L253.5,106.38 L254,106.34 L254.5,106.29 L255,106.24 L255.5,106.19 L256,106.13 L256.5,106.06 L257,105.98 L257.5,105.89 L258,105.79 L258.5,105.68 L259,105.56 L259.5,105.43 L260,105.28 L260.5,105.11 L261,104.93 L261.5,104.73 L262,104.51 L262.5,104.27 L263,104.01 L263.5,103.73 L264,103.43 L264.5,103.11 L265,102.76 L265.5,102.4 L266,102.01 L266.5,101.6 L267,101.17 L267.5,100.72 L268,100.26 L268.5,99.78 L269,99.29 L269.5,98.8 L270,98.29 L270.5,97.79 L271,97.28 L271.5,96.79 L272,96.3 L272.5,95.84 L273,95.39 L273.5,94.97 L274,94.59 L274.5,94.25 L275,93.95 L275.5,93.7 L276,93.51 L276.5,93.38 L277,93.31 L277.5,93.31 L278,93.36 L278.5,93.48 L279,93.66 L279.5,94.13 L280,95.66 L280.5,97.05 L281,98.3 L281.5,99.42 L282,100.41 L282.5,101.29 L283,102.06 L283.5,102.74 L284,103.32 L284.5,103.83 L285,104.26 L285.5,104.63 L286,104.95 L286.5,105.22 L287,105.45 L287.5,105.64 L288,105.8 L288.5,105.94 L289,106.05 L289.5,106.15 L290,106.23 L290.5,106.29 L291,106.35 L291.5,106.4 L292,106.44 L292.5,106.47 L293,106.5 L293.5,106.53 L294,106.55 L294.5,106.57 L295,106.59 L295.5,106.61 L296,106.62 L296.5,106.64 L297,106.65 L297.5,106.66 L298,106.67 L298.5,106.68 L299,106.69 L299.5,106.7 L300,106.71 L300.5,106.72 L301,106.73 L301.5,106.73 L302,106.74 L302.5,106.75 L303,106.75 L303.5,106.76 L304,106.77 L304.5,106.77 L305,106.78 L305.5,106.78 L306,106.79 L306.5,106.79 L307,106.8 L307.5,106.8 L308,106.81 L308.5,106.81 L309,106.82 L309.5,106.82 L310,106.82 L310.5,106.83 L311,106.83 L311.5,106.84 L312,106.84 L312.5,106.84 L313,106.85 L313.5,106.85 L314,106.85 L314.5,106.86 L315,106.86 L315.5,106.86 L316,106.86 L316.5,106.87 L317,106.87 L317.5,106.87 L318,106.87 L318.5,106.88 L319,106.88 L319.5,106.88 L320,106.88 L320.5,106.89 L321,106.89 L321.5,106.89 L322,106.89 L322.5,106.89 L323,106.9 L323.5,106.9 L324,106.9 L324.5,106.9 L325,106.9 L325.5,106.9 L326,106.91 L326.5,106.91 L327,106.91 L327.5,106.91 L328,106.91 L328.5,106.91 L329,106.91 L329.5,106.92 L330,106.92 L330.5,106.92 L331,106.92 L331.5,106.92 L332,106.92 L332.5,106.92 L333,106.92 L333.5,106.93 L334,106.93 L334.5,106.93 L335,106.93 L335,107 Z" fill="#c992f2" stroke="none"/>
<path d="M224,105.95 L225.12,107.27 L226.18,105.04 L227.47,106.92 L228.88,106.75 L230.22,106.79 L231.3,105.27 L232.96,106.66 L234.14,104.22 L235.89,106.55 L237.21,102.16 L238.25,106.24 L239.48,105.14 L240.58,105.57 L242.23,103.51 L243.69,104.66 L244.99,98.81 L246.04,102.48 L247.21,95.77 L248.55,100.44 L250.02,94.08 L251.26,95.58 L252.82,89.31 L254.28,88.18 L255.98,80.27 L257.21,78.77 L258.3,71.24 L259.91,63.32 L261.3,53.94 L262.83,44.6 L264.29,33.39 L265.54,32.54 L267.02,29.94 L268.38,34.44 L270.14,36.84 L271.67,43.48 L273.23,50.24 L275.02,65.71 L276.25,71.56 L277.79,80.76 L279.16,85.24 L280.25,88.92 L281.86,91.85 L283.06,94.59 L284.76,96.13 L286.12,98.75 L287.83,92.68 L289.52,101.28 L290.85,99.18 L292.56,103.8 L293.68,102.2 L294.86,104.1 L296.25,99.61 L297.46,104.78 L298.8,102.39 L300.25,106.44 L301.8,101.63 L303.3,106.68 L304.34,98.18 L305.96,107.26 L307.6,103.54 L308.92,106.67 L310.43,106.29 L311.48,106.86 L312.61,104.19 L313.65,106.68 L314.77,106.13 L316.07,106.75 L317.77,103.98 L318.88,106.94 L320.16,105.32 L321.26,107.33 L323.05,104.85 L324.44,106.92 L325.52,105.5 L326.74,107.5 L327.86,106.8 L329.63,107.5 L330.74,102.13 L331.76,107.5 L333.55,98.58 L335.1,107.28 L336.4,105.81 L338.01,107.5 L339.64,104.35 L340.82,107.5" fill="none" stroke="#404040" stroke-width="0.75" stroke-linejoin="round" />
<path d="M222,107 L222.5,107 L223,107 L223.5,106.99 L224,106.98 L224.5,106.98 L225,106.96 L225.5,106.95 L226,106.94 L226.5,106.92 L227,106.91 L227.5,106.89 L228,106.87 L228.5,106.85 L229,106.82 L229.5,106.8 L230,106.77 L230.5,106.75 L231,106.72 L231.5,106.69 L232,106.66 L232.5,106.63 L233,106.6 L233.5,106.56 L234,106.52 L234.5,106.47 L235,106.41 L235.5,106.34 L236,106.26 L236.5,106.17 L237,106.08 L237.5,105.98 L238,105.88 L238.5,105.77 L239,105.65 L239.5,105.52 L240,105.39 L240.5,105.26 L241,105.11 L241.5,104.95 L242,104.76 L242.5,104.55 L243,104.32 L243.5,104.07 L244,103.8 L244.5,103.5 L245,103.17 L245.5,102.82 L246,102.45 L246.5,102.05 L247,101.63 L247.5,101.18 L248,100.7 L248.5,100.16 L249,99.46 L249.5,98.59 L250,97.6 L250.5,96.5 L251,95.34 L251.5,94.13 L252,92.91 L252.5,91.71 L253,90.54 L253.5,89.4 L254,88.26 L254.5,87.07 L255,85.81 L255.5,84.44 L256,82.93 L256.5,81.24 L257,79.23 L257.5,76.89 L258,74.3 L258.5,71.51 L259,68.6 L259.5,65.64 L260,62.7 L260.5,59.57 L261,56.13 L261.5,52.59 L262,49.16 L262.5,46.04 L263,43.41 L263.5,40.85 L264,38.24 L264.5,35.81 L265,33.76 L265.5,32.29 L266,31.62 L266.5,31.68 L267,32.01 L267.5,32.56 L268,33.32 L268.5,34.28 L269,35.4 L269.5,36.67 L270,38.07 L270.5,39.59 L271,41.19 L271.5,42.87 L272,44.69 L272.5,47.4 L273,50.87 L273.5,54.71 L274,58.57 L274.5,62.07 L275,65.16 L275.5,68.27 L276,71.33 L276.5,74.27 L277,77.01 L277.5,79.48 L278,81.6 L278.5,83.46 L279,85.19 L279.5,86.79 L280,88.23 L280.5,89.51 L281,90.61 L281.5,91.55 L282,92.43 L282.5,93.27 L283,94.07 L283.5,94.83 L284,95.55 L284.5,96.23 L285,96.87 L285.5,97.47 L286,98.03 L286.5,98.56 L287,99.04 L287.5,99.5 L288,99.91 L288.5,100.29 L289,100.64 L289.5,100.97 L290,101.29 L290.5,101.6 L291,101.9 L291.5,102.19 L292,102.47 L292.5,102.73 L293,102.99 L293.5,103.24 L294,103.47 L294.5,103.69 L295,103.91 L295.5,104.11 L296,104.29 L296.5,104.47 L297,104.63 L297.5,104.78 L298,104.92 L298.5,105.05 L299,105.16 L299.5,105.26 L300,105.36 L300.5,105.46 L301,105.55 L301.5,105.64 L302,105.73 L302.5,105.82 L303,105.9 L303.5,105.98 L304,106.05 L304.5,106.13 L305,106.19 L305.5,106.26 L306,106.32 L306.5,106.37 L307,106.42 L307.5,106.46 L308,106.5 L308.5,106.54 L309,106.56 L309.5,106.58 L310,106.6 L310.5,106.61 L311,106.62 L311.5,106.64 L312,106.65 L312.5,106.66 L313,106.67 L313.5,106.68 L314,106.69 L314.5,106.7 L315,106.71 L315.5,106.72 L316,106.73 L316.5,106.74 L317,106.75 L317.5,106.76 L318,106.77 L318.5,106.78 L319,106.79 L319.5,106.8 L320,106.81 L320.5,106.81 L321,106.82 L321.5,106.83 L322,106.84 L322.5,106.84 L323,106.85 L323.5,106.86 L324,106.86 L324.5,106.87 L325,106.88 L325.5,106.88 L326,106.89 L326.5,106.9 L327,106.9 L327.5,106.91 L328,106.91 L328.5,106.92 L329,106.92 L329.5,106.93 L330,106.93 L330.5,106.94 L331,106.94 L331.5,106.95 L332,106.95 L332.5,106.95 L333,106.96 L333.5,106.96 L334,106.96 L334.5,106.97 L335,106.97 L335.5,106.97 L336,106.98 L336.5,106.98 L337,106.98 L337.5,106.98 L338,106.99 L338.5,106.99 L339,106.99 L339.5,106.99 L340,106.99 L340.5,106.99 L341,107 L341.5,107 L342,107 L342.5,107 L343,107 L343.5,107 L344,107 L344.5,107 L345,107" fill="none" stroke="#4a5ed0" stroke-width="1.0" stroke-linejoin="round" />
<path d="M222,207.6 H341" stroke="#f0a040" stroke-width="1.6"/>
<path d="M225,207.9 L225,207.79 L225.5,207.79 L226,207.79 L226.5,207.79 L227,207.78 L227.5,207.78 L228,207.78 L228.5,207.78 L229,207.78 L229.5,207.77 L230,207.77 L230.5,207.77 L231,207.76 L231.5,207.76 L232,207.76 L232.5,207.76 L233,207.75 L233.5,207.75 L234,207.75 L234.5,207.74 L235,207.74 L235.5,207.73 L236,207.73 L236.5,207.73 L237,207.72 L237.5,207.72 L238,207.71 L238.5,207.71 L239,207.7 L239.5,207.7 L240,207.69 L240.5,207.69 L241,207.68 L241.5,207.68 L242,207.67 L242.5,207.66 L243,207.66 L243.5,207.65 L244,207.64 L244.5,207.63 L245,207.62 L245.5,207.62 L246,207.61 L246.5,207.6 L247,207.59 L247.5,207.58 L248,207.56 L248.5,207.55 L249,207.54 L249.5,207.52 L250,207.5 L250.5,207.49 L251,207.47 L251.5,207.44 L252,207.42 L252.5,207.39 L253,207.36 L253.5,207.33 L254,207.29 L254.5,207.24 L255,207.2 L255.5,207.14 L256,207.08 L256.5,207.01 L257,206.93 L257.5,206.84 L258,206.74 L258.5,206.63 L259,206.51 L259.5,206.37 L260,206.22 L260.5,206.05 L261,205.86 L261.5,205.66 L262,205.44 L262.5,205.19 L263,204.93 L263.5,204.64 L264,204.34 L264.5,204.01 L265,203.66 L265.5,203.29 L266,202.9 L266.5,202.5 L267,202.07 L267.5,201.63 L268,201.18 L268.5,200.72 L269,200.25 L269.5,199.78 L270,199.31 L270.5,198.84 L271,198.39 L271.5,197.95 L272,197.53 L272.5,197.14 L273,196.78 L273.5,196.46 L274,196.18 L274.5,195.95 L275,195.78 L275.5,195.66 L276,195.6 L276.5,195.61 L277,195.68 L277.5,195.81 L278,195.99 L278.5,196.23 L279,196.52 L279.5,196.85 L280,197.21 L280.5,197.61 L281,198.04 L281.5,198.48 L282,198.94 L282.5,199.4 L283,199.88 L283.5,200.35 L284,200.81 L284.5,201.27 L285,201.72 L285.5,202.16 L286,202.58 L286.5,202.98 L287,203.37 L287.5,203.73 L288,204.08 L288.5,204.4 L289,204.7 L289.5,204.98 L290,205.24 L290.5,205.48 L291,205.7 L291.5,205.9 L292,206.09 L292.5,206.25 L293,206.4 L293.5,206.54 L294,206.66 L294.5,206.76 L295,206.86 L295.5,206.95 L296,207.02 L296.5,207.09 L297,207.15 L297.5,207.21 L298,207.25 L298.5,207.3 L299,207.33 L299.5,207.37 L300,207.4 L300.5,207.42 L301,207.45 L301.5,207.47 L302,207.49 L302.5,207.51 L303,207.52 L303.5,207.54 L304,207.55 L304.5,207.57 L305,207.58 L305.5,207.59 L306,207.6 L306.5,207.61 L307,207.62 L307.5,207.63 L308,207.63 L308.5,207.64 L309,207.65 L309.5,207.66 L310,207.66 L310.5,207.67 L311,207.68 L311.5,207.68 L312,207.69 L312.5,207.69 L313,207.7 L313.5,207.7 L314,207.71 L314.5,207.71 L315,207.72 L315.5,207.72 L316,207.73 L316.5,207.73 L317,207.73 L317.5,207.74 L318,207.74 L318.5,207.75 L319,207.75 L319.5,207.75 L320,207.76 L320.5,207.76 L321,207.76 L321.5,207.76 L322,207.77 L322.5,207.77 L323,207.77 L323.5,207.78 L324,207.78 L324.5,207.78 L325,207.78 L325.5,207.79 L326,207.79 L326.5,207.79 L327,207.79 L327.5,207.79 L328,207.8 L328.5,207.8 L329,207.8 L329.5,207.8 L330,207.8 L330.5,207.8 L331,207.81 L331.5,207.81 L332,207.81 L332.5,207.81 L333,207.81 L333.5,207.81 L334,207.82 L334.5,207.82 L335,207.82 L335,207.9 Z" fill="#74c8f2" stroke="none"/>
<path d="M225,207.9 L225,207.59 L225.5,207.58 L226,207.57 L226.5,207.57 L227,207.56 L227.5,207.55 L228,207.54 L228.5,207.53 L229,207.52 L229.5,207.51 L230,207.5 L230.5,207.49 L231,207.48 L231.5,207.47 L232,207.46 L232.5,207.45 L233,207.43 L233.5,207.42 L234,207.41 L234.5,207.39 L235,207.38 L235.5,207.36 L236,207.34 L236.5,207.32 L237,207.31 L237.5,207.29 L238,207.27 L238.5,207.24 L239,207.22 L239.5,207.2 L240,207.17 L240.5,207.14 L241,207.11 L241.5,207.08 L242,207.04 L242.5,207 L243,206.95 L243.5,206.9 L244,206.84 L244.5,206.78 L245,206.7 L245.5,206.61 L246,206.51 L246.5,206.38 L247,206.24 L247.5,206.06 L248,205.86 L248.5,205.62 L249,205.33 L249.5,204.99 L250,204.59 L250.5,204.13 L251,203.58 L251.5,202.95 L252,202.21 L252.5,201.36 L253,200.39 L253.5,199.28 L254,198.03 L254.5,196.62 L255,195.05 L255.5,193.3 L256,191.38 L256.5,189.28 L257,187.01 L257.5,184.56 L258,181.95 L258.5,179.19 L259,176.29 L259.5,173.28 L260,170.19 L260.5,167.04 L261,163.87 L261.5,160.71 L262,157.62 L262.5,154.63 L263,151.8 L263.5,149.17 L264,146.79 L264.5,144.71 L265,142.97 L265.5,141.62 L266,140.68 L266.5,140.18 L267,140.14 L267.5,140.6 L268,141.57 L268.5,143.01 L269,144.9 L269.5,147.18 L270,149.82 L270.5,152.74 L271,155.9 L271.5,159.24 L272,162.69 L272.5,166.19 L273,169.7 L273.5,173.15 L274,176.52 L274.5,179.76 L275,182.84 L275.5,185.73 L276,188.42 L276.5,190.9 L277,193.16 L277.5,195.2 L278,197.03 L278.5,198.64 L279,200.06 L279.5,201.3 L280,202.37 L280.5,203.28 L281,204.06 L281.5,204.72 L282,205.26 L282.5,205.72 L283,206.09 L283.5,206.4 L284,206.65 L284.5,206.85 L285,207.02 L285.5,207.15 L286,207.25 L286.5,207.34 L287,207.4 L287.5,207.46 L288,207.5 L288.5,207.54 L289,207.57 L289.5,207.59 L290,207.61 L290.5,207.63 L291,207.64 L291.5,207.65 L292,207.66 L292.5,207.67 L293,207.68 L293.5,207.69 L294,207.7 L294.5,207.71 L295,207.71 L295.5,207.72 L296,207.72 L296.5,207.73 L297,207.74 L297.5,207.74 L298,207.75 L298.5,207.75 L299,207.75 L299.5,207.76 L300,207.76 L300.5,207.77 L301,207.77 L301.5,207.77 L302,207.78 L302.5,207.78 L303,207.78 L303.5,207.79 L304,207.79 L304.5,207.79 L305,207.8 L305.5,207.8 L306,207.8 L306.5,207.8 L307,207.81 L307.5,207.81 L308,207.81 L308.5,207.81 L309,207.81 L309.5,207.82 L310,207.82 L310.5,207.82 L311,207.82 L311.5,207.82 L312,207.82 L312.5,207.83 L313,207.83 L313.5,207.83 L314,207.83 L314.5,207.83 L315,207.83 L315.5,207.83 L316,207.84 L316.5,207.84 L317,207.84 L317.5,207.84 L318,207.84 L318.5,207.84 L319,207.84 L319.5,207.84 L320,207.85 L320.5,207.85 L321,207.85 L321.5,207.85 L322,207.85 L322.5,207.85 L323,207.85 L323.5,207.85 L324,207.85 L324.5,207.85 L325,207.85 L325.5,207.85 L326,207.86 L326.5,207.86 L327,207.86 L327.5,207.86 L328,207.86 L328.5,207.86 L329,207.86 L329.5,207.86 L330,207.86 L330.5,207.86 L331,207.86 L331.5,207.86 L332,207.86 L332.5,207.86 L333,207.86 L333.5,207.86 L334,207.87 L334.5,207.87 L335,207.87 L335,207.9 Z" fill="#ff84f2" stroke="none"/>
<path d="M225,207.9 L225,207.79 L225.5,207.79 L226,207.79 L226.5,207.79 L227,207.78 L227.5,207.78 L228,207.78 L228.5,207.78 L229,207.78 L229.5,207.77 L230,207.77 L230.5,207.77 L231,207.76 L231.5,207.76 L232,207.76 L232.5,207.76 L233,207.75 L233.5,207.75 L234,207.75 L234.5,207.74 L235,207.74 L235.5,207.73 L236,207.73 L236.5,207.73 L237,207.72 L237.5,207.72 L238,207.71 L238.5,207.71 L239,207.7 L239.5,207.7 L240,207.69 L240.5,207.69 L241,207.68 L241.5,207.68 L242,207.67 L242.5,207.66 L243,207.66 L243.5,207.65 L244,207.64 L244.5,207.63 L245,207.62 L245.5,207.62 L246,207.61 L246.5,207.6 L247,207.59 L247.5,207.58 L248,207.56 L248.5,207.55 L249,207.54 L249.5,207.52 L250,207.5 L250.5,207.49 L251,207.47 L251.5,207.44 L252,207.42 L252.5,207.39 L253,207.36 L253.5,207.33 L254,207.29 L254.5,207.24 L255,207.2 L255.5,207.14 L256,207.08 L256.5,207.01 L257,206.93 L257.5,206.84 L258,206.74 L258.5,206.63 L259,206.51 L259.5,206.37 L260,206.22 L260.5,206.05 L261,205.86 L261.5,205.66 L262,205.44 L262.5,205.19 L263,204.93 L263.5,204.64 L264,204.34 L264.5,204.01 L265,203.66 L265.5,203.29 L266,202.9 L266.5,202.5 L267,202.07 L267.5,201.63 L268,201.18 L268.5,200.72 L269,200.25 L269.5,199.78 L270,199.31 L270.5,198.84 L271,198.39 L271.5,197.95 L272,197.53 L272.5,197.14 L273,196.78 L273.5,196.46 L274,196.18 L274.5,195.95 L275,195.78 L275.5,195.66 L276,195.6 L276.5,195.61 L277,195.68 L277.5,195.81 L278,197.03 L278.5,198.64 L279,200.06 L279.5,201.3 L280,202.37 L280.5,203.28 L281,204.06 L281.5,204.72 L282,205.26 L282.5,205.72 L283,206.09 L283.5,206.4 L284,206.65 L284.5,206.85 L285,207.02 L285.5,207.15 L286,207.25 L286.5,207.34 L287,207.4 L287.5,207.46 L288,207.5 L288.5,207.54 L289,207.57 L289.5,207.59 L290,207.61 L290.5,207.63 L291,207.64 L291.5,207.65 L292,207.66 L292.5,207.67 L293,207.68 L293.5,207.69 L294,207.7 L294.5,207.71 L295,207.71 L295.5,207.72 L296,207.72 L296.5,207.73 L297,207.74 L297.5,207.74 L298,207.75 L298.5,207.75 L299,207.75 L299.5,207.76 L300,207.76 L300.5,207.77 L301,207.77 L301.5,207.77 L302,207.78 L302.5,207.78 L303,207.78 L303.5,207.79 L304,207.79 L304.5,207.79 L305,207.8 L305.5,207.8 L306,207.8 L306.5,207.8 L307,207.81 L307.5,207.81 L308,207.81 L308.5,207.81 L309,207.81 L309.5,207.82 L310,207.82 L310.5,207.82 L311,207.82 L311.5,207.82 L312,207.82 L312.5,207.83 L313,207.83 L313.5,207.83 L314,207.83 L314.5,207.83 L315,207.83 L315.5,207.83 L316,207.84 L316.5,207.84 L317,207.84 L317.5,207.84 L318,207.84 L318.5,207.84 L319,207.84 L319.5,207.84 L320,207.85 L320.5,207.85 L321,207.85 L321.5,207.85 L322,207.85 L322.5,207.85 L323,207.85 L323.5,207.85 L324,207.85 L324.5,207.85 L325,207.85 L325.5,207.85 L326,207.86 L326.5,207.86 L327,207.86 L327.5,207.86 L328,207.86 L328.5,207.86 L329,207.86 L329.5,207.86 L330,207.86 L330.5,207.86 L331,207.86 L331.5,207.86 L332,207.86 L332.5,207.86 L333,207.86 L333.5,207.86 L334,207.87 L334.5,207.87 L335,207.87 L335,207.9 Z" fill="#c992f2" stroke="none"/>
<path d="M230,207.9 L230,207.9 L230.5,207.9 L231,207.9 L231.5,207.9 L232,207.89 L232.5,207.89 L233,207.88 L233.5,207.87 L234,207.85 L234.5,207.81 L235,207.77 L235.5,207.7 L236,207.6 L236.5,207.47 L237,207.29 L237.5,207.05 L238,206.75 L238.5,206.37 L239,205.92 L239.5,205.38 L240,204.76 L240.5,204.08 L241,203.35 L241.5,202.59 L242,201.84 L242.5,201.14 L243,200.51 L243.5,200 L244,199.63 L244.5,199.43 L245,199.41 L245.5,199.58 L246,199.91 L246.5,200.4 L247,201.01 L247.5,201.7 L248,202.44 L248.5,203.2 L249,203.94 L249.5,204.63 L250,205.26 L250.5,205.81 L251,206.29 L251.5,206.68 L252,207 L252.5,207.25 L253,207.44 L253.5,207.58 L254,207.68 L254.5,207.75 L255,207.81 L255.5,207.84 L256,207.86 L256.5,207.88 L257,207.89 L257.5,207.89 L258,207.9 L258.5,207.9 L259,207.9 L259.5,207.9 L260,207.9 L260.5,207.9 L261,207.9 L261.5,207.9 L262,207.9 L262,207.9 Z" fill="#2828e6" stroke="none"/>
<path d="M222,201.29 L223.64,208.4 L225.24,206.55 L226.65,208.12 L227.67,207.48 L228.9,207.52 L230.45,187.77 L231.81,208.4 L233.6,186.45 L234.89,205.3 L236.07,201.36 L237.24,205.06 L238.96,185.95 L240.34,202.52 L241.98,198.61 L243.51,201.06 L245.13,184.45 L246.52,198.87 L248.15,192.43 L249.79,198.67 L251.11,187.99 L252.86,192.4 L254,185.54 L255.12,182.72 L256.76,173.8 L258.43,169.91 L259.95,158.6 L261.39,154.45 L262.4,135.2 L263.92,143.75 L265.67,133.21 L267.37,138.85 L268.54,136.68 L269.77,142.97 L271.24,145.57 L272.57,156.9 L274.3,162.21 L275.67,173.91 L277.39,175.4 L279.13,187.29 L280.55,184.23 L281.57,193.66 L282.71,194.93 L284.35,197.94 L285.73,181.37 L287.18,201.38 L288.59,188.59 L290.22,202.91 L291.67,198.63 L292.89,206.66 L294.29,194.99 L295.9,207.92 L297.26,195.12 L298.66,207.85 L300.22,199.17 L301.64,208.19 L303.4,194.19 L305.1,208.4 L306.3,197.49 L308.06,208.4 L309.17,206.03 L310.52,207.86 L311.71,206.87 L313.25,208.4 L314.97,206.42 L316.54,208.4 L317.66,196.63 L319.43,208.17 L321.19,203.54 L322.58,208.4 L324.25,206.4 L325.59,208.4 L326.86,206.03 L328.12,208.4 L329.13,201.48 L330.49,207.91 L331.75,200.51 L333.16,207.99 L334.95,198.12 L336.73,208.06 L337.94,207.63 L339.56,208.32 L340.67,203.28" fill="none" stroke="#404040" stroke-width="0.75" stroke-linejoin="round" />
<path d="M222,207.9 L222.5,207.9 L223,207.9 L223.5,207.9 L224,207.9 L224.5,207.9 L225,207.9 L225.5,207.89 L226,207.85 L226.5,207.8 L227,207.72 L227.5,207.63 L228,207.51 L228.5,207.38 L229,207.24 L229.5,207.08 L230,206.9 L230.5,206.72 L231,206.52 L231.5,206.32 L232,206.1 L232.5,205.88 L233,205.66 L233.5,205.42 L234,205.19 L234.5,204.95 L235,204.71 L235.5,204.48 L236,204.24 L236.5,204 L237,203.71 L237.5,203.37 L238,202.99 L238.5,202.58 L239,202.15 L239.5,201.7 L240,201.25 L240.5,200.81 L241,200.39 L241.5,199.99 L242,199.63 L242.5,199.32 L243,199.07 L243.5,198.88 L244,198.76 L244.5,198.69 L245,198.63 L245.5,198.58 L246,198.52 L246.5,198.44 L247,198.32 L247.5,198.13 L248,197.86 L248.5,197.52 L249,197.12 L249.5,196.65 L250,196.11 L250.5,195.5 L251,194.83 L251.5,194.1 L252,193.3 L252.5,192.39 L253,190.89 L253.5,188.86 L254,186.54 L254.5,184.15 L255,181.91 L255.5,179.91 L256,177.95 L256.5,176.02 L257,174.09 L257.5,172.16 L258,170.2 L258.5,168.2 L259,166.15 L259.5,164.02 L260,161.78 L260.5,159.24 L261,156.48 L261.5,153.64 L262,150.84 L262.5,148.23 L263,145.94 L263.5,144.1 L264,142.63 L264.5,141.19 L265,139.84 L265.5,138.68 L266,137.8 L266.5,137.29 L267,137.23 L267.5,137.59 L268,138.3 L268.5,139.28 L269,140.47 L269.5,141.81 L270,143.22 L270.5,144.81 L271,147.07 L271.5,149.86 L272,152.97 L272.5,156.2 L273,159.34 L273.5,162.19 L274,164.72 L274.5,167.23 L275,169.71 L275.5,172.13 L276,174.47 L276.5,176.7 L277,178.81 L277.5,180.77 L278,182.57 L278.5,184.33 L279,186.03 L279.5,187.65 L280,189.16 L280.5,190.53 L281,191.76 L281.5,192.8 L282,193.72 L282.5,194.6 L283,195.42 L283.5,196.19 L284,196.92 L284.5,197.6 L285,198.22 L285.5,198.8 L286,199.32 L286.5,199.8 L287,200.22 L287.5,200.61 L288,200.99 L288.5,201.36 L289,201.73 L289.5,202.08 L290,202.43 L290.5,202.77 L291,203.1 L291.5,203.42 L292,203.73 L292.5,204.03 L293,204.32 L293.5,204.59 L294,204.85 L294.5,205.1 L295,205.34 L295.5,205.56 L296,205.77 L296.5,205.97 L297,206.14 L297.5,206.31 L298,206.45 L298.5,206.58 L299,206.69 L299.5,206.79 L300,206.86 L300.5,206.92 L301,206.98 L301.5,207.03 L302,207.08 L302.5,207.13 L303,207.18 L303.5,207.22 L304,207.27 L304.5,207.31 L305,207.35 L305.5,207.39 L306,207.43 L306.5,207.46 L307,207.5 L307.5,207.53 L308,207.56 L308.5,207.59 L309,207.62 L309.5,207.64 L310,207.67 L310.5,207.69 L311,207.71 L311.5,207.73 L312,207.74 L312.5,207.76 L313,207.77 L313.5,207.78 L314,207.79 L314.5,207.8 L315,207.8 L315.5,207.8 L316,207.81 L316.5,207.81 L317,207.82 L317.5,207.82 L318,207.82 L318.5,207.83 L319,207.83 L319.5,207.83 L320,207.84 L320.5,207.84 L321,207.84 L321.5,207.84 L322,207.85 L322.5,207.85 L323,207.85 L323.5,207.86 L324,207.86 L324.5,207.86 L325,207.86 L325.5,207.87 L326,207.87 L326.5,207.87 L327,207.87 L327.5,207.87 L328,207.88 L328.5,207.88 L329,207.88 L329.5,207.88 L330,207.88 L330.5,207.88 L331,207.89 L331.5,207.89 L332,207.89 L332.5,207.89 L333,207.89 L333.5,207.89 L334,207.89 L334.5,207.89 L335,207.89 L335.5,207.9 L336,207.9 L336.5,207.9 L337,207.9 L337.5,207.9 L338,207.9 L338.5,207.9 L339,207.9 L339.5,207.9 L340,207.9 L340.5,207.9 L341,207.9" fill="none" stroke="#2a9d8f" stroke-width="1.0" stroke-linejoin="round" stroke-dasharray="2.5,1.2"/>
<path d="M221,307.4 H334.5" stroke="#e8304a" stroke-width="1.6"/>
<path d="M225,307.7 L225,307.4 L225.5,307.4 L226,307.39 L226.5,307.38 L227,307.38 L227.5,307.37 L228,307.36 L228.5,307.36 L229,307.35 L229.5,307.34 L230,307.33 L230.5,307.32 L231,307.32 L231.5,307.31 L232,307.3 L232.5,307.29 L233,307.28 L233.5,307.27 L234,307.26 L234.5,307.25 L235,307.24 L235.5,307.22 L236,307.21 L236.5,307.2 L237,307.19 L237.5,307.17 L238,307.16 L238.5,307.14 L239,307.13 L239.5,307.11 L240,307.09 L240.5,307.08 L241,307.06 L241.5,307.04 L242,307.02 L242.5,307 L243,306.97 L243.5,306.95 L244,306.93 L244.5,306.9 L245,306.87 L245.5,306.84 L246,306.81 L246.5,306.77 L247,306.73 L247.5,306.69 L248,306.64 L248.5,306.59 L249,306.54 L249.5,306.47 L250,306.41 L250.5,306.33 L251,306.25 L251.5,306.15 L252,306.05 L252.5,305.93 L253,305.8 L253.5,305.65 L254,305.48 L254.5,305.3 L255,305.09 L255.5,304.86 L256,304.6 L256.5,304.32 L257,304 L257.5,303.65 L258,303.27 L258.5,302.84 L259,302.38 L259.5,301.88 L260,301.34 L260.5,300.75 L261,300.11 L261.5,299.44 L262,298.72 L262.5,297.95 L263,297.14 L263.5,296.3 L264,295.41 L264.5,294.49 L265,293.55 L265.5,292.58 L266,291.59 L266.5,290.59 L267,289.59 L267.5,288.59 L268,287.62 L268.5,286.67 L269,285.76 L269.5,284.9 L270,284.11 L270.5,283.39 L271,282.77 L271.5,282.25 L272,281.85 L272.5,281.57 L273,281.42 L273.5,281.41 L274,281.53 L274.5,281.78 L275,282.16 L275.5,282.66 L276,283.26 L276.5,283.96 L277,284.73 L277.5,285.58 L278,286.48 L278.5,287.42 L279,288.4 L279.5,289.39 L280,290.39 L280.5,291.39 L281,292.38 L281.5,293.35 L282,294.31 L282.5,295.23 L283,296.12 L283.5,296.98 L284,297.79 L284.5,298.57 L285,299.3 L285.5,299.98 L286,300.62 L286.5,301.22 L287,301.77 L287.5,302.29 L288,302.75 L288.5,303.18 L289,303.58 L289.5,303.93 L290,304.26 L290.5,304.55 L291,304.81 L291.5,305.05 L292,305.26 L292.5,305.45 L293,305.62 L293.5,305.77 L294,305.9 L294.5,306.02 L295,306.13 L295.5,306.23 L296,306.31 L296.5,306.39 L297,306.46 L297.5,306.52 L298,306.58 L298.5,306.63 L299,306.68 L299.5,306.72 L300,306.76 L300.5,306.8 L301,306.83 L301.5,306.86 L302,306.89 L302.5,306.92 L303,306.95 L303.5,306.97 L304,306.99 L304.5,307.01 L305,307.03 L305.5,307.05 L306,307.07 L306.5,307.09 L307,307.11 L307.5,307.12 L308,307.14 L308.5,307.15 L309,307.17 L309.5,307.18 L310,307.2 L310.5,307.21 L311,307.22 L311.5,307.23 L312,307.24 L312.5,307.26 L313,307.27 L313.5,307.28 L314,307.29 L314.5,307.3 L315,307.3 L315.5,307.31 L316,307.32 L316.5,307.33 L317,307.34 L317.5,307.35 L318,307.35 L318.5,307.36 L319,307.37 L319.5,307.38 L320,307.38 L320.5,307.39 L321,307.39 L321.5,307.4 L322,307.41 L322.5,307.41 L323,307.42 L323.5,307.42 L324,307.43 L324.5,307.43 L325,307.44 L325.5,307.44 L326,307.45 L326.5,307.45 L327,307.46 L327.5,307.46 L328,307.47 L328.5,307.47 L329,307.47 L329.5,307.48 L330,307.48 L330.5,307.49 L331,307.49 L331.5,307.49 L332,307.5 L332.5,307.5 L333,307.5 L333.5,307.51 L334,307.51 L334.5,307.51 L335,307.52 L335,307.7 Z" fill="#74c8f2" stroke="none"/>
<path d="M225,307.7 L225,307.05 L225.5,307.04 L226,307.02 L226.5,307 L227,306.99 L227.5,306.97 L228,306.95 L228.5,306.93 L229,306.9 L229.5,306.88 L230,306.86 L230.5,306.84 L231,306.81 L231.5,306.78 L232,306.76 L232.5,306.73 L233,306.7 L233.5,306.67 L234,306.63 L234.5,306.6 L235,306.56 L235.5,306.52 L236,306.48 L236.5,306.44 L237,306.4 L237.5,306.35 L238,306.3 L238.5,306.25 L239,306.19 L239.5,306.13 L240,306.06 L240.5,305.99 L241,305.91 L241.5,305.82 L242,305.73 L242.5,305.62 L243,305.5 L243.5,305.36 L244,305.21 L244.5,305.04 L245,304.84 L245.5,304.61 L246,304.35 L246.5,304.04 L247,303.69 L247.5,303.29 L248,302.82 L248.5,302.28 L249,301.66 L249.5,300.95 L250,300.14 L250.5,299.22 L251,298.18 L251.5,297.01 L252,295.71 L252.5,294.25 L253,292.64 L253.5,290.87 L254,288.94 L254.5,286.85 L255,284.61 L255.5,282.21 L256,279.67 L256.5,277 L257,274.22 L257.5,271.36 L258,268.44 L258.5,265.49 L259,262.55 L259.5,259.66 L260,256.87 L260.5,254.22 L261,251.78 L261.5,249.58 L262,247.69 L262.5,246.16 L263,245.03 L263.5,244.33 L264,244.1 L264.5,244.35 L265,245.09 L265.5,246.3 L266,247.96 L266.5,250.02 L267,252.43 L267.5,255.15 L268,258.1 L268.5,261.24 L269,264.51 L269.5,267.84 L270,271.18 L270.5,274.49 L271,277.72 L271.5,280.83 L272,283.79 L272.5,286.57 L273,289.16 L273.5,291.55 L274,293.72 L274.5,295.68 L275,297.43 L275.5,298.97 L276,300.33 L276.5,301.51 L277,302.53 L277.5,303.4 L278,304.13 L278.5,304.75 L279,305.27 L279.5,305.69 L280,306.04 L280.5,306.33 L281,306.56 L281.5,306.75 L282,306.9 L282.5,307.02 L283,307.11 L283.5,307.19 L284,307.25 L284.5,307.3 L285,307.34 L285.5,307.37 L286,307.39 L286.5,307.41 L287,307.43 L287.5,307.45 L288,307.46 L288.5,307.47 L289,307.48 L289.5,307.49 L290,307.5 L290.5,307.51 L291,307.51 L291.5,307.52 L292,307.53 L292.5,307.53 L293,307.54 L293.5,307.54 L294,307.55 L294.5,307.55 L295,307.56 L295.5,307.56 L296,307.57 L296.5,307.57 L297,307.57 L297.5,307.58 L298,307.58 L298.5,307.58 L299,307.59 L299.5,307.59 L300,307.59 L300.5,307.6 L301,307.6 L301.5,307.6 L302,307.6 L302.5,307.61 L303,307.61 L303.5,307.61 L304,307.61 L304.5,307.61 L305,307.62 L305.5,307.62 L306,307.62 L306.5,307.62 L307,307.62 L307.5,307.63 L308,307.63 L308.5,307.63 L309,307.63 L309.5,307.63 L310,307.63 L310.5,307.64 L311,307.64 L311.5,307.64 L312,307.64 L312.5,307.64 L313,307.64 L313.5,307.64 L314,307.64 L314.5,307.64 L315,307.65 L315.5,307.65 L316,307.65 L316.5,307.65 L317,307.65 L317.5,307.65 L318,307.65 L318.5,307.65 L319,307.65 L319.5,307.65 L320,307.65 L320.5,307.66 L321,307.66 L321.5,307.66 L322,307.66 L322.5,307.66 L323,307.66 L323.5,307.66 L324,307.66 L324.5,307.66 L325,307.66 L325.5,307.66 L326,307.66 L326.5,307.66 L327,307.66 L327.5,307.66 L328,307.67 L328.5,307.67 L329,307.67 L329.5,307.67 L330,307.67 L330.5,307.67 L331,307.67 L331.5,307.67 L332,307.67 L332.5,307.67 L333,307.67 L333.5,307.67 L334,307.67 L334.5,307.67 L335,307.67 L335,307.7 Z" fill="#ff84f2" stroke="none"/>
<path d="M225,307.7 L225,307.4 L225.5,307.4 L226,307.39 L226.5,307.38 L227,307.38 L227.5,307.37 L228,307.36 L228.5,307.36 L229,307.35 L229.5,307.34 L230,307.33 L230.5,307.32 L231,307.32 L231.5,307.31 L232,307.3 L232.5,307.29 L233,307.28 L233.5,307.27 L234,307.26 L234.5,307.25 L235,307.24 L235.5,307.22 L236,307.21 L236.5,307.2 L237,307.19 L237.5,307.17 L238,307.16 L238.5,307.14 L239,307.13 L239.5,307.11 L240,307.09 L240.5,307.08 L241,307.06 L241.5,307.04 L242,307.02 L242.5,307 L243,306.97 L243.5,306.95 L244,306.93 L244.5,306.9 L245,306.87 L245.5,306.84 L246,306.81 L246.5,306.77 L247,306.73 L247.5,306.69 L248,306.64 L248.5,306.59 L249,306.54 L249.5,306.47 L250,306.41 L250.5,306.33 L251,306.25 L251.5,306.15 L252,306.05 L252.5,305.93 L253,305.8 L253.5,305.65 L254,305.48 L254.5,305.3 L255,305.09 L255.5,304.86 L256,304.6 L256.5,304.32 L257,304 L257.5,303.65 L258,303.27 L258.5,302.84 L259,302.38 L259.5,301.88 L260,301.34 L260.5,300.75 L261,300.11 L261.5,299.44 L262,298.72 L262.5,297.95 L263,297.14 L263.5,296.3 L264,295.41 L264.5,294.49 L265,293.55 L265.5,292.58 L266,291.59 L266.5,290.59 L267,289.59 L267.5,288.59 L268,287.62 L268.5,286.67 L269,285.76 L269.5,284.9 L270,284.11 L270.5,283.39 L271,282.77 L271.5,282.25 L272,283.79 L272.5,286.57 L273,289.16 L273.5,291.55 L274,293.72 L274.5,295.68 L275,297.43 L275.5,298.97 L276,300.33 L276.5,301.51 L277,302.53 L277.5,303.4 L278,304.13 L278.5,304.75 L279,305.27 L279.5,305.69 L280,306.04 L280.5,306.33 L281,306.56 L281.5,306.75 L282,306.9 L282.5,307.02 L283,307.11 L283.5,307.19 L284,307.25 L284.5,307.3 L285,307.34 L285.5,307.37 L286,307.39 L286.5,307.41 L287,307.43 L287.5,307.45 L288,307.46 L288.5,307.47 L289,307.48 L289.5,307.49 L290,307.5 L290.5,307.51 L291,307.51 L291.5,307.52 L292,307.53 L292.5,307.53 L293,307.54 L293.5,307.54 L294,307.55 L294.5,307.55 L295,307.56 L295.5,307.56 L296,307.57 L296.5,307.57 L297,307.57 L297.5,307.58 L298,307.58 L298.5,307.58 L299,307.59 L299.5,307.59 L300,307.59 L300.5,307.6 L301,307.6 L301.5,307.6 L302,307.6 L302.5,307.61 L303,307.61 L303.5,307.61 L304,307.61 L304.5,307.61 L305,307.62 L305.5,307.62 L306,307.62 L306.5,307.62 L307,307.62 L307.5,307.63 L308,307.63 L308.5,307.63 L309,307.63 L309.5,307.63 L310,307.63 L310.5,307.64 L311,307.64 L311.5,307.64 L312,307.64 L312.5,307.64 L313,307.64 L313.5,307.64 L314,307.64 L314.5,307.64 L315,307.65 L315.5,307.65 L316,307.65 L316.5,307.65 L317,307.65 L317.5,307.65 L318,307.65 L318.5,307.65 L319,307.65 L319.5,307.65 L320,307.65 L320.5,307.66 L321,307.66 L321.5,307.66 L322,307.66 L322.5,307.66 L323,307.66 L323.5,307.66 L324,307.66 L324.5,307.66 L325,307.66 L325.5,307.66 L326,307.66 L326.5,307.66 L327,307.66 L327.5,307.66 L328,307.67 L328.5,307.67 L329,307.67 L329.5,307.67 L330,307.67 L330.5,307.67 L331,307.67 L331.5,307.67 L332,307.67 L332.5,307.67 L333,307.67 L333.5,307.67 L334,307.67 L334.5,307.67 L335,307.67 L335,307.7 Z" fill="#c992f2" stroke="none"/>
<path d="M222,302.98 L223.21,307.81 L224.94,304.64 L226.5,307.76 L227.55,303.87 L228.89,307.75 L230.64,304.22 L232.28,307.76 L233.97,307.47 L235.66,308.03 L236.93,304.75 L238.67,307.7 L239.77,304.21 L240.96,306.34 L242.09,305.25 L243.25,304.94 L244.5,297.84 L245.73,302.76 L246.87,298.53 L247.89,299.38 L248.9,290.93 L250.34,290.67 L251.72,276.24 L252.8,278.97 L254.15,267.62 L255.82,261.72 L257.22,250.65 L259.01,244.34 L260.67,233.26 L262.18,231.18 L263.46,226.6 L264.57,224.75 L266.16,224.8 L267.29,228.91 L268.96,230.65 L270.5,241.5 L271.69,246.64 L273.06,255.22 L274.42,260.17 L276.19,268.96 L277.62,272.94 L279.4,280.61 L280.68,285.18 L281.99,289.29 L283.39,291.27 L284.79,294.57 L286,295.86 L287.32,298.31 L288.34,296.82 L289.53,301.54 L290.95,294.43 L292.48,304.55 L294.18,301.3 L295.44,306.83 L296.56,298.54 L298.08,306.67 L299.74,297.59 L301.25,307.89 L302.9,307.32 L304.31,307.94 L305.98,304.62 L307.64,307.98 L309.36,305.17 L310.91,307.81 L311.94,307.34 L313.23,307.75 L314.89,305.71 L316.4,308.2 L317.94,301.34 L318.94,308.2 L320.54,301.12 L321.97,308.2 L323.02,301.46 L324.23,307.78 L325.44,301.54 L326.6,308.2 L328.38,303.84 L329.69,308.2 L331.24,301.15 L332.73,308.2 L333.79,306.8 L334.99,308.2" fill="none" stroke="#404040" stroke-width="0.75" stroke-linejoin="round" />
<path d="M221,307.7 L221.5,307.7 L222,307.7 L222.5,307.7 L223,307.7 L223.5,307.7 L224,307.7 L224.5,307.7 L225,307.7 L225.5,307.7 L226,307.7 L226.5,307.7 L227,307.7 L227.5,307.7 L228,307.7 L228.5,307.7 L229,307.7 L229.5,307.7 L230,307.7 L230.5,307.7 L231,307.7 L231.5,307.7 L232,307.7 L232.5,307.7 L233,307.7 L233.5,307.7 L234,307.7 L234.5,307.7 L235,307.7 L235.5,307.7 L236,307.7 L236.5,307.7 L237,307.7 L237.5,307.7 L238,307.67 L238.5,307.56 L239,307.38 L239.5,307.14 L240,306.86 L240.5,306.54 L241,306.21 L241.5,305.87 L242,305.53 L242.5,305.19 L243,304.84 L243.5,304.45 L244,304.04 L244.5,303.58 L245,303.09 L245.5,302.55 L246,301.96 L246.5,301.31 L247,300.59 L247.5,299.81 L248,298.92 L248.5,297.68 L249,296.09 L249.5,294.19 L250,292.05 L250.5,289.73 L251,287.27 L251.5,284.73 L252,282.18 L252.5,279.67 L253,277.22 L253.5,274.64 L254,271.9 L254.5,269.07 L255,266.18 L255.5,263.3 L256,260.46 L256.5,257.73 L257,255.06 L257.5,252.32 L258,249.56 L258.5,246.83 L259,244.18 L259.5,241.66 L260,239.32 L260.5,237.22 L261,235.38 L261.5,233.51 L262,231.62 L262.5,229.79 L263,228.11 L263.5,226.65 L264,225.51 L264.5,224.77 L265,224.5 L265.5,224.75 L266,225.46 L266.5,226.55 L267,227.95 L267.5,229.57 L268,231.34 L268.5,233.18 L269,235.03 L269.5,236.84 L270,238.94 L270.5,241.34 L271,243.97 L271.5,246.71 L272,249.5 L272.5,252.24 L273,254.83 L273.5,257.2 L274,259.39 L274.5,261.53 L275,263.62 L275.5,265.65 L276,267.64 L276.5,269.59 L277,271.51 L277.5,273.4 L278,275.26 L278.5,277.1 L279,278.94 L279.5,280.82 L280,282.72 L280.5,284.55 L281,286.26 L281.5,287.77 L282,289.03 L282.5,290.15 L283,291.22 L283.5,292.22 L284,293.17 L284.5,294.06 L285,294.91 L285.5,295.71 L286,296.46 L286.5,297.17 L287,297.84 L287.5,298.47 L288,299.07 L288.5,299.64 L289,300.2 L289.5,300.74 L290,301.27 L290.5,301.78 L291,302.27 L291.5,302.75 L292,303.2 L292.5,303.62 L293,304.02 L293.5,304.39 L294,304.73 L294.5,305.04 L295,305.32 L295.5,305.56 L296,305.77 L296.5,305.98 L297,306.19 L297.5,306.39 L298,306.59 L298.5,306.77 L299,306.95 L299.5,307.11 L300,307.25 L300.5,307.38 L301,307.49 L301.5,307.58 L302,307.65 L302.5,307.69 L303,307.7 L303.5,307.7 L304,307.7 L304.5,307.7 L305,307.7 L305.5,307.7 L306,307.7 L306.5,307.7 L307,307.7 L307.5,307.7 L308,307.7 L308.5,307.7 L309,307.7 L309.5,307.7 L310,307.7 L310.5,307.7 L311,307.7 L311.5,307.7 L312,307.7 L312.5,307.7 L313,307.7 L313.5,307.7 L314,307.7 L314.5,307.7 L315,307.7 L315.5,307.7 L316,307.7 L316.5,307.7 L317,307.7 L317.5,307.7 L318,307.7 L318.5,307.7 L319,307.7 L319.5,307.7 L320,307.7 L320.5,307.7 L321,307.7 L321.5,307.7 L322,307.7 L322.5,307.7 L323,307.7 L323.5,307.7 L324,307.7 L324.5,307.7 L325,307.7 L325.5,307.7 L326,307.7 L326.5,307.7 L327,307.7 L327.5,307.7 L328,307.7 L328.5,307.7 L329,307.7 L329.5,307.7 L330,307.7 L330.5,307.7 L331,307.7 L331.5,307.7 L332,307.7 L332.5,307.7 L333,307.7 L333.5,307.7 L334,307.7 L334.5,307.7" fill="none" stroke="#e84040" stroke-width="1.0" stroke-linejoin="round" />
<path d="M220,407.4 H340" stroke="#5ab4e6" stroke-width="1.6"/>
<path d="M225,407.7 L225,407.54 L225.5,407.53 L226,407.53 L226.5,407.53 L227,407.52 L227.5,407.52 L228,407.52 L228.5,407.51 L229,407.51 L229.5,407.51 L230,407.5 L230.5,407.5 L231,407.49 L231.5,407.49 L232,407.48 L232.5,407.48 L233,407.47 L233.5,407.47 L234,407.46 L234.5,407.46 L235,407.45 L235.5,407.44 L236,407.44 L236.5,407.43 L237,407.42 L237.5,407.42 L238,407.41 L238.5,407.4 L239,407.39 L239.5,407.39 L240,407.38 L240.5,407.37 L241,407.36 L241.5,407.35 L242,407.34 L242.5,407.33 L243,407.32 L243.5,407.31 L244,407.29 L244.5,407.28 L245,407.27 L245.5,407.25 L246,407.24 L246.5,407.22 L247,407.21 L247.5,407.19 L248,407.17 L248.5,407.15 L249,407.13 L249.5,407.11 L250,407.08 L250.5,407.06 L251,407.03 L251.5,407 L252,406.96 L252.5,406.92 L253,406.88 L253.5,406.83 L254,406.78 L254.5,406.72 L255,406.65 L255.5,406.57 L256,406.48 L256.5,406.38 L257,406.26 L257.5,406.12 L258,405.97 L258.5,405.79 L259,405.58 L259.5,405.35 L260,405.09 L260.5,404.79 L261,404.45 L261.5,404.07 L262,403.64 L262.5,403.17 L263,402.65 L263.5,402.07 L264,401.45 L264.5,400.76 L265,400.03 L265.5,399.24 L266,398.39 L266.5,397.5 L267,396.57 L267.5,395.6 L268,394.59 L268.5,393.57 L269,392.53 L269.5,391.48 L270,390.45 L270.5,389.44 L271,388.47 L271.5,387.55 L272,386.71 L272.5,385.96 L273,385.32 L273.5,384.8 L274,384.41 L274.5,384.18 L275,384.1 L275.5,384.18 L276,384.41 L276.5,384.8 L277,385.32 L277.5,385.96 L278,386.71 L278.5,387.55 L279,388.47 L279.5,389.44 L280,390.45 L280.5,391.48 L281,392.53 L281.5,393.57 L282,394.59 L282.5,395.6 L283,396.57 L283.5,397.5 L284,398.39 L284.5,399.24 L285,400.03 L285.5,400.76 L286,401.45 L286.5,402.07 L287,402.65 L287.5,403.17 L288,403.64 L288.5,404.07 L289,404.45 L289.5,404.79 L290,405.09 L290.5,405.35 L291,405.58 L291.5,405.79 L292,405.97 L292.5,406.12 L293,406.26 L293.5,406.38 L294,406.48 L294.5,406.57 L295,406.65 L295.5,406.72 L296,406.78 L296.5,406.83 L297,406.88 L297.5,406.92 L298,406.96 L298.5,407 L299,407.03 L299.5,407.06 L300,407.08 L300.5,407.11 L301,407.13 L301.5,407.15 L302,407.17 L302.5,407.19 L303,407.21 L303.5,407.22 L304,407.24 L304.5,407.25 L305,407.27 L305.5,407.28 L306,407.29 L306.5,407.31 L307,407.32 L307.5,407.33 L308,407.34 L308.5,407.35 L309,407.36 L309.5,407.37 L310,407.38 L310.5,407.39 L311,407.39 L311.5,407.4 L312,407.41 L312.5,407.42 L313,407.42 L313.5,407.43 L314,407.44 L314.5,407.44 L315,407.45 L315.5,407.46 L316,407.46 L316.5,407.47 L317,407.47 L317.5,407.48 L318,407.48 L318.5,407.49 L319,407.49 L319.5,407.5 L320,407.5 L320.5,407.51 L321,407.51 L321.5,407.51 L322,407.52 L322.5,407.52 L323,407.52 L323.5,407.53 L324,407.53 L324.5,407.53 L325,407.54 L325.5,407.54 L326,407.54 L326.5,407.55 L327,407.55 L327.5,407.55 L328,407.56 L328.5,407.56 L329,407.56 L329.5,407.56 L330,407.57 L330.5,407.57 L331,407.57 L331.5,407.57 L332,407.57 L332.5,407.58 L333,407.58 L333.5,407.58 L334,407.58 L334.5,407.58 L335,407.59 L335,407.7 Z" fill="#74c8f2" stroke="none"/>
<path d="M225,407.7 L225,407.17 L225.5,407.16 L226,407.15 L226.5,407.13 L227,407.12 L227.5,407.1 L228,407.09 L228.5,407.07 L229,407.06 L229.5,407.04 L230,407.02 L230.5,407 L231,406.98 L231.5,406.96 L232,406.94 L232.5,406.92 L233,406.9 L233.5,406.88 L234,406.85 L234.5,406.83 L235,406.8 L235.5,406.77 L236,406.74 L236.5,406.71 L237,406.68 L237.5,406.64 L238,406.61 L238.5,406.57 L239,406.53 L239.5,406.49 L240,406.45 L240.5,406.4 L241,406.35 L241.5,406.3 L242,406.25 L242.5,406.19 L243,406.12 L243.5,406.06 L244,405.99 L244.5,405.91 L245,405.82 L245.5,405.73 L246,405.62 L246.5,405.51 L247,405.38 L247.5,405.23 L248,405.07 L248.5,404.87 L249,404.65 L249.5,404.39 L250,404.09 L250.5,403.74 L251,403.32 L251.5,402.83 L252,402.27 L252.5,401.6 L253,400.82 L253.5,399.92 L254,398.87 L254.5,397.67 L255,396.3 L255.5,394.74 L256,392.98 L256.5,391.02 L257,388.83 L257.5,386.42 L258,383.79 L258.5,380.95 L259,377.89 L259.5,374.66 L260,371.25 L260.5,367.72 L261,364.09 L261.5,360.42 L262,356.76 L262.5,353.16 L263,349.71 L263.5,346.48 L264,343.55 L264.5,341.01 L265,338.92 L265.5,337.38 L266,336.42 L266.5,336.1 L267,336.44 L267.5,337.46 L268,339.13 L268.5,341.39 L269,344.17 L269.5,347.41 L270,351.01 L270.5,354.88 L271,358.94 L271.5,363.1 L272,367.26 L272.5,371.37 L273,375.34 L273.5,379.14 L274,382.71 L274.5,386.02 L275,389.05 L275.5,391.79 L276,394.24 L276.5,396.4 L277,398.28 L277.5,399.9 L278,401.29 L278.5,402.46 L279,403.43 L279.5,404.24 L280,404.9 L280.5,405.44 L281,405.87 L281.5,406.22 L282,406.49 L282.5,406.7 L283,406.87 L283.5,407 L284,407.1 L284.5,407.18 L285,407.24 L285.5,407.29 L286,407.33 L286.5,407.36 L287,407.39 L287.5,407.41 L288,407.42 L288.5,407.44 L289,407.45 L289.5,407.46 L290,407.47 L290.5,407.48 L291,407.49 L291.5,407.5 L292,407.51 L292.5,407.51 L293,407.52 L293.5,407.53 L294,407.53 L294.5,407.54 L295,407.54 L295.5,407.55 L296,407.55 L296.5,407.56 L297,407.56 L297.5,407.57 L298,407.57 L298.5,407.58 L299,407.58 L299.5,407.58 L300,407.59 L300.5,407.59 L301,407.59 L301.5,407.6 L302,407.6 L302.5,407.6 L303,407.6 L303.5,407.61 L304,407.61 L304.5,407.61 L305,407.61 L305.5,407.62 L306,407.62 L306.5,407.62 L307,407.62 L307.5,407.62 L308,407.63 L308.5,407.63 L309,407.63 L309.5,407.63 L310,407.63 L310.5,407.63 L311,407.63 L311.5,407.64 L312,407.64 L312.5,407.64 L313,407.64 L313.5,407.64 L314,407.64 L314.5,407.64 L315,407.64 L315.5,407.65 L316,407.65 L316.5,407.65 L317,407.65 L317.5,407.65 L318,407.65 L318.5,407.65 L319,407.65 L319.5,407.65 L320,407.65 L320.5,407.66 L321,407.66 L321.5,407.66 L322,407.66 L322.5,407.66 L323,407.66 L323.5,407.66 L324,407.66 L324.5,407.66 L325,407.66 L325.5,407.66 L326,407.66 L326.5,407.66 L327,407.66 L327.5,407.66 L328,407.67 L328.5,407.67 L329,407.67 L329.5,407.67 L330,407.67 L330.5,407.67 L331,407.67 L331.5,407.67 L332,407.67 L332.5,407.67 L333,407.67 L333.5,407.67 L334,407.67 L334.5,407.67 L335,407.67 L335,407.7 Z" fill="#ff84f2" stroke="none"/>
<path d="M225,407.7 L225,407.54 L225.5,407.53 L226,407.53 L226.5,407.53 L227,407.52 L227.5,407.52 L228,407.52 L228.5,407.51 L229,407.51 L229.5,407.51 L230,407.5 L230.5,407.5 L231,407.49 L231.5,407.49 L232,407.48 L232.5,407.48 L233,407.47 L233.5,407.47 L234,407.46 L234.5,407.46 L235,407.45 L235.5,407.44 L236,407.44 L236.5,407.43 L237,407.42 L237.5,407.42 L238,407.41 L238.5,407.4 L239,407.39 L239.5,407.39 L240,407.38 L240.5,407.37 L241,407.36 L241.5,407.35 L242,407.34 L242.5,407.33 L243,407.32 L243.5,407.31 L244,407.29 L244.5,407.28 L245,407.27 L245.5,407.25 L246,407.24 L246.5,407.22 L247,407.21 L247.5,407.19 L248,407.17 L248.5,407.15 L249,407.13 L249.5,407.11 L250,407.08 L250.5,407.06 L251,407.03 L251.5,407 L252,406.96 L252.5,406.92 L253,406.88 L253.5,406.83 L254,406.78 L254.5,406.72 L255,406.65 L255.5,406.57 L256,406.48 L256.5,406.38 L257,406.26 L257.5,406.12 L258,405.97 L258.5,405.79 L259,405.58 L259.5,405.35 L260,405.09 L260.5,404.79 L261,404.45 L261.5,404.07 L262,403.64 L262.5,403.17 L263,402.65 L263.5,402.07 L264,401.45 L264.5,400.76 L265,400.03 L265.5,399.24 L266,398.39 L266.5,397.5 L267,396.57 L267.5,395.6 L268,394.59 L268.5,393.57 L269,392.53 L269.5,391.48 L270,390.45 L270.5,389.44 L271,388.47 L271.5,387.55 L272,386.71 L272.5,385.96 L273,385.32 L273.5,384.8 L274,384.41 L274.5,386.02 L275,389.05 L275.5,391.79 L276,394.24 L276.5,396.4 L277,398.28 L277.5,399.9 L278,401.29 L278.5,402.46 L279,403.43 L279.5,404.24 L280,404.9 L280.5,405.44 L281,405.87 L281.5,406.22 L282,406.49 L282.5,406.7 L283,406.87 L283.5,407 L284,407.1 L284.5,407.18 L285,407.24 L285.5,407.29 L286,407.33 L286.5,407.36 L287,407.39 L287.5,407.41 L288,407.42 L288.5,407.44 L289,407.45 L289.5,407.46 L290,407.47 L290.5,407.48 L291,407.49 L291.5,407.5 L292,407.51 L292.5,407.51 L293,407.52 L293.5,407.53 L294,407.53 L294.5,407.54 L295,407.54 L295.5,407.55 L296,407.55 L296.5,407.56 L297,407.56 L297.5,407.57 L298,407.57 L298.5,407.58 L299,407.58 L299.5,407.58 L300,407.59 L300.5,407.59 L301,407.59 L301.5,407.6 L302,407.6 L302.5,407.6 L303,407.6 L303.5,407.61 L304,407.61 L304.5,407.61 L305,407.61 L305.5,407.62 L306,407.62 L306.5,407.62 L307,407.62 L307.5,407.62 L308,407.63 L308.5,407.63 L309,407.63 L309.5,407.63 L310,407.63 L310.5,407.63 L311,407.63 L311.5,407.64 L312,407.64 L312.5,407.64 L313,407.64 L313.5,407.64 L314,407.64 L314.5,407.64 L315,407.64 L315.5,407.65 L316,407.65 L316.5,407.65 L317,407.65 L317.5,407.65 L318,407.65 L318.5,407.65 L319,407.65 L319.5,407.65 L320,407.65 L320.5,407.66 L321,407.66 L321.5,407.66 L322,407.66 L322.5,407.66 L323,407.66 L323.5,407.66 L324,407.66 L324.5,407.66 L325,407.66 L325.5,407.66 L326,407.66 L326.5,407.66 L327,407.66 L327.5,407.66 L328,407.67 L328.5,407.67 L329,407.67 L329.5,407.67 L330,407.67 L330.5,407.67 L331,407.67 L331.5,407.67 L332,407.67 L332.5,407.67 L333,407.67 L333.5,407.67 L334,407.67 L334.5,407.67 L335,407.67 L335,407.7 Z" fill="#c992f2" stroke="none"/>
<path d="M226,404.94 L227.01,408.03 L228.22,404.27 L229.78,408.2 L231.01,405.28 L232.38,408.2 L233.48,402.76 L234.64,408.2 L236.39,407.65 L237.75,407.98 L239.53,404.56 L240.74,406.59 L242.5,404.84 L243.96,405.19 L245.38,394.73 L246.49,404.23 L247.9,393.16 L249.46,400.18 L251.18,392.72 L252.2,394.3 L253.59,386.01 L254.83,385.38 L256.11,378.96 L257.78,372.6 L259.38,359.34 L260.48,357.29 L262.05,341.79 L263.28,338.24 L264.59,324.62 L266.06,322.1 L267.41,321.64 L268.45,326.9 L270.11,334.15 L271.86,343.72 L273.07,347.64 L274.23,356.05 L275.99,360.11 L277.64,372.74 L279.37,376.85 L280.81,390.67 L281.85,390.47 L283.21,397.14 L284.73,396.84 L285.77,401.08 L286.87,397.65 L288.14,402.91 L289.73,395.22 L290.94,405.52 L292.18,401.01 L293.5,406.16 L294.63,405.03 L296.35,407.49 L297.53,399.26 L299.33,408.07 L300.44,406.44 L301.51,408.08 L302.58,406.1 L303.79,408.2 L305.5,401.38 L306.83,408.2 L308.25,404.99 L309.52,407.86 L310.74,399.15 L311.84,408.2 L313.35,406.15 L314.52,407.89 L315.72,407.17 L317.07,408.07 L318.75,406.15 L319.77,407.87 L321.34,406.11 L322.72,408.01 L323.72,407.23 L325.46,408.08 L327.14,399.18 L328.34,408.01 L329.46,403.76 L331.01,408.2 L332.59,402.55 L334.2,408.2 L335.64,407.71" fill="none" stroke="#404040" stroke-width="0.75" stroke-linejoin="round" />
<path d="M220,407.9 L220.5,407.91 L221,407.92 L221.5,407.93 L222,407.94 L222.5,407.95 L223,407.95 L223.5,407.96 L224,407.97 L224.5,407.97 L225,407.98 L225.5,407.98 L226,407.98 L226.5,407.99 L227,407.99 L227.5,407.99 L228,407.99 L228.5,408 L229,408 L229.5,408 L230,408 L230.5,408 L231,408 L231.5,408 L232,408 L232.5,408 L233,408 L233.5,408 L234,407.99 L234.5,407.96 L235,407.91 L235.5,407.85 L236,407.77 L236.5,407.68 L237,407.57 L237.5,407.45 L238,407.32 L238.5,407.18 L239,407.03 L239.5,406.87 L240,406.7 L240.5,406.53 L241,406.34 L241.5,406.15 L242,405.96 L242.5,405.76 L243,405.56 L243.5,405.33 L244,405.07 L244.5,404.77 L245,404.44 L245.5,404.07 L246,403.67 L246.5,403.23 L247,402.76 L247.5,402.25 L248,401.71 L248.5,401.12 L249,400.51 L249.5,399.85 L250,399.16 L250.5,398.32 L251,397.32 L251.5,396.16 L252,394.85 L252.5,393.41 L253,391.84 L253.5,390.17 L254,388.41 L254.5,386.56 L255,384.64 L255.5,382.67 L256,380.66 L256.5,378.61 L257,376.46 L257.5,374.05 L258,371.41 L258.5,368.61 L259,365.68 L259.5,362.67 L260,359.62 L260.5,356.59 L261,353.39 L261.5,350 L262,346.54 L262.5,343.09 L263,339.77 L263.5,336.68 L264,333.63 L264.5,330.25 L265,326.93 L265.5,324.07 L266,322.06 L266.5,321.3 L267,321.75 L267.5,322.99 L268,324.83 L268.5,327.1 L269,329.63 L269.5,332.23 L270,334.72 L270.5,336.99 L271,339.31 L271.5,341.75 L272,344.28 L272.5,346.87 L273,349.49 L273.5,352.1 L274,354.68 L274.5,357.2 L275,359.65 L275.5,362.07 L276,364.47 L276.5,366.86 L277,369.25 L277.5,371.68 L278,374.14 L278.5,376.66 L279,379.28 L279.5,382.3 L280,385.49 L280.5,388.54 L281,391.15 L281.5,393 L282,394.27 L282.5,395.37 L283,396.32 L283.5,397.16 L284,397.9 L284.5,398.56 L285,399.18 L285.5,399.77 L286,400.35 L286.5,400.91 L287,401.44 L287.5,401.96 L288,402.45 L288.5,402.92 L289,403.37 L289.5,403.78 L290,404.17 L290.5,404.52 L291,404.84 L291.5,405.13 L292,405.39 L292.5,405.6 L293,405.79 L293.5,405.98 L294,406.17 L294.5,406.35 L295,406.52 L295.5,406.69 L296,406.84 L296.5,406.99 L297,407.13 L297.5,407.25 L298,407.36 L298.5,407.46 L299,407.54 L299.5,407.61 L300,407.66 L300.5,407.69 L301,407.7 L301.5,407.71 L302,407.71 L302.5,407.72 L303,407.73 L303.5,407.73 L304,407.74 L304.5,407.74 L305,407.75 L305.5,407.75 L306,407.76 L306.5,407.76 L307,407.77 L307.5,407.77 L308,407.78 L308.5,407.78 L309,407.79 L309.5,407.79 L310,407.8 L310.5,407.8 L311,407.8 L311.5,407.81 L312,407.81 L312.5,407.81 L313,407.82 L313.5,407.82 L314,407.83 L314.5,407.83 L315,407.83 L315.5,407.84 L316,407.84 L316.5,407.84 L317,407.84 L317.5,407.85 L318,407.85 L318.5,407.85 L319,407.85 L319.5,407.86 L320,407.86 L320.5,407.86 L321,407.86 L321.5,407.87 L322,407.87 L322.5,407.87 L323,407.87 L323.5,407.87 L324,407.88 L324.5,407.88 L325,407.88 L325.5,407.88 L326,407.88 L326.5,407.88 L327,407.88 L327.5,407.89 L328,407.89 L328.5,407.89 L329,407.89 L329.5,407.89 L330,407.89 L330.5,407.89 L331,407.89 L331.5,407.89 L332,407.89 L332.5,407.9 L333,407.9 L333.5,407.9 L334,407.9 L334.5,407.9 L335,407.9 L335.5,407.9 L336,407.9 L336.5,407.9 L337,407.9 L337.5,407.9 L338,407.9 L338.5,407.9 L339,407.9 L339.5,407.9 L340,407.9" fill="none" stroke="#3aa0e0" stroke-width="1.0" stroke-linejoin="round" />
<text x="334" y="20.8" font-size="10" letter-spacing="-1.2">O1s</text>
<text x="227.6" y="50.8" font-size="10">C=O</text>
<text x="283.3" y="80.3" font-size="10">C-O</text>
<text x="225.5" y="174.5" font-size="10">Li<tspan font-size="7" dy="2">2</tspan><tspan dy="-2">O</tspan></text>
<path d="M405,77.68 L405.5,77.66 L406,77.64 L406.5,77.62 L407,77.6 L407.5,77.58 L408,77.56 L408.5,77.53 L409,77.51 L409.5,77.48 L410,77.45 L410.5,77.42 L411,77.38 L411.5,77.35 L412,77.31 L412.5,77.27 L413,77.22 L413.5,77.17 L414,77.11 L414.5,77.04 L415,76.97 L415.5,76.9 L416,76.81 L416.5,76.71 L417,76.61 L417.5,76.49 L418,76.36 L418.5,76.22 L419,76.06 L419.5,75.88 L420,75.69 L420.5,75.48 L421,75.25 L421.5,74.99 L422,74.71 L422.5,74.41 L423,74.07 L423.5,73.71 L424,73.32 L424.5,72.9 L425,72.44 L425.5,71.95 L426,71.42 L426.5,70.86 L427,70.26 L427.5,69.61 L428,68.94 L428.5,68.22 L429,67.46 L429.5,66.66 L430,65.82 L430.5,64.95 L431,64.04 L431.5,63.1 L432,62.12 L432.5,61.11 L433,60.08 L433.5,59.02 L434,57.94 L434.5,56.84 L435,55.73 L435.5,54.61 L436,53.49 L436.5,52.38 L437,51.27 L437.5,50.17 L438,49.09 L438.5,48.04 L439,47.01 L439.5,46.03 L440,45.08 L440.5,44.19 L441,43.34 L441.5,42.56 L442,41.84 L442.5,41.19 L443,40.61 L443.5,40.11 L444,39.69 L444.5,39.35 L445,39.1 L445.5,38.93 L446,38.86 L446.5,38.87 L447,38.96 L447.5,39.15 L448,39.42 L448.5,39.78 L449,40.21 L449.5,40.73 L450,41.32 L450.5,41.98 L451,42.7 L451.5,43.49 L452,44.33 L452.5,45.23 L453,46.16 L453.5,47.14 L454,48.15 L454.5,49.19 L455,50.24 L455.5,51.32 L456,52.4 L456.5,53.49 L457,54.57 L457.5,55.65 L458,56.72 L458.5,57.78 L459,58.81 L459.5,59.83 L460,60.81 L460.5,61.77 L461,62.69 L461.5,63.58 L462,64.44 L462.5,65.26 L463,66.04 L463.5,66.78 L464,67.48 L464.5,68.15 L465,68.77 L465.5,69.35 L466,69.9 L466.5,70.41 L467,70.88 L467.5,71.32 L468,71.72 L468.5,72.1 L469,72.44 L469.5,72.75 L470,73.03 L470.5,73.29 L471,73.52 L471.5,73.73 L472,73.92 L472.5,74.08 L473,74.23 L473.5,74.37 L474,74.48 L474.5,74.59 L475,74.68 L475.5,74.75 L476,74.82 L476.5,74.88 L477,74.93 L477.5,74.97 L478,75 L478.5,75.03 L479,75.05 L479.5,75.06 L480,75.08 L480.5,75.09 L481,75.09 L481.5,75.09 L482,75.09 L482.5,75.09 L483,75.08 L483.5,75.08 L484,75.07 L484.5,75.06 L485,75.05 L485.5,75.04 L486,75.03 L486.5,75.01 L487,75 L487.5,74.99 L488,74.97 L488.5,74.96 L489,74.94 L489.5,74.93 L490,74.91 L490,74.92 L489.5,74.93 L489,74.95 L488.5,74.97 L488,74.98 L487.5,75 L487,75.02 L486.5,75.03 L486,75.05 L485.5,75.06 L485,75.08 L484.5,75.1 L484,75.11 L483.5,75.13 L483,75.15 L482.5,75.16 L482,75.18 L481.5,75.19 L481,75.21 L480.5,75.23 L480,75.24 L479.5,75.26 L479,75.28 L478.5,75.29 L478,75.31 L477.5,75.33 L477,75.34 L476.5,75.36 L476,75.37 L475.5,75.39 L475,75.41 L474.5,75.42 L474,75.44 L473.5,75.46 L473,75.47 L472.5,75.49 L472,75.5 L471.5,75.52 L471,75.54 L470.5,75.55 L470,75.57 L469.5,75.59 L469,75.6 L468.5,75.62 L468,75.64 L467.5,75.65 L467,75.67 L466.5,75.68 L466,75.7 L465.5,75.72 L465,75.73 L464.5,75.75 L464,75.77 L463.5,75.78 L463,75.8 L462.5,75.82 L462,75.83 L461.5,75.85 L461,75.86 L460.5,75.88 L460,75.9 L459.5,75.91 L459,75.93 L458.5,75.95 L458,75.96 L457.5,75.98 L457,76 L456.5,76.01 L456,76.03 L455.5,76.04 L455,76.06 L454.5,76.08 L454,76.09 L453.5,76.11 L453,76.13 L452.5,76.14 L452,76.16 L451.5,76.17 L451,76.19 L450.5,76.21 L450,76.22 L449.5,76.24 L449,76.26 L448.5,76.27 L448,76.29 L447.5,76.31 L447,76.32 L446.5,76.34 L446,76.35 L445.5,76.37 L445,76.39 L444.5,76.4 L444,76.42 L443.5,76.44 L443,76.45 L442.5,76.47 L442,76.48 L441.5,76.5 L441,76.52 L440.5,76.53 L440,76.55 L439.5,76.57 L439,76.58 L438.5,76.6 L438,76.62 L437.5,76.63 L437,76.65 L436.5,76.66 L436,76.68 L435.5,76.7 L435,76.71 L434.5,76.73 L434,76.75 L433.5,76.76 L433,76.78 L432.5,76.8 L432,76.81 L431.5,76.83 L431,76.84 L430.5,76.86 L430,76.88 L429.5,76.89 L429,76.91 L428.5,76.93 L428,76.94 L427.5,76.96 L427,76.98 L426.5,76.99 L426,77.01 L425.5,77.02 L425,77.04 L424.5,77.06 L424,77.07 L423.5,77.09 L423,77.11 L422.5,77.12 L422,77.14 L421.5,77.15 L421,77.17 L420.5,77.19 L420,77.2 L419.5,77.22 L419,77.24 L418.5,77.25 L418,77.27 L417.5,77.29 L417,77.3 L416.5,77.32 L416,77.33 L415.5,77.35 L415,77.37 L414.5,77.38 L414,77.4 L413.5,77.42 L413,77.43 L412.5,77.45 L412,77.47 L411.5,77.48 L411,77.5 L410.5,77.51 L410,77.53 L409.5,77.55 L409,77.56 L408.5,77.58 L408,77.6 L407.5,77.61 L407,77.63 L406.5,77.64 L406,77.66 L405.5,77.68 L405,77.69 Z" fill="#f5a04e" fill-opacity="0.85" stroke="none"/>
<path d="M389.5,78.2 L485,75.08" fill="none" stroke="#3b3bd6" stroke-width="1.0" stroke-linejoin="round" />
<path d="M405,77.68 L405.5,77.66 L406,77.64 L406.5,77.62 L407,77.6 L407.5,77.58 L408,77.56 L408.5,77.53 L409,77.51 L409.5,77.48 L410,77.45 L410.5,77.42 L411,77.38 L411.5,77.35 L412,77.31 L412.5,77.27 L413,77.22 L413.5,77.17 L414,77.11 L414.5,77.04 L415,76.97 L415.5,76.9 L416,76.81 L416.5,76.71 L417,76.61 L417.5,76.49 L418,76.36 L418.5,76.22 L419,76.06 L419.5,75.88 L420,75.69 L420.5,75.48 L421,75.25 L421.5,74.99 L422,74.71 L422.5,74.41 L423,74.07 L423.5,73.71 L424,73.32 L424.5,72.9 L425,72.44 L425.5,71.95 L426,71.42 L426.5,70.86 L427,70.26 L427.5,69.61 L428,68.94 L428.5,68.22 L429,67.46 L429.5,66.66 L430,65.82 L430.5,64.95 L431,64.04 L431.5,63.1 L432,62.12 L432.5,61.11 L433,60.08 L433.5,59.02 L434,57.94 L434.5,56.84 L435,55.73 L435.5,54.61 L436,53.49 L436.5,52.38 L437,51.27 L437.5,50.17 L438,49.09 L438.5,48.04 L439,47.01 L439.5,46.03 L440,45.08 L440.5,44.19 L441,43.34 L441.5,42.56 L442,41.84 L442.5,41.19 L443,40.61 L443.5,40.11 L444,39.69 L444.5,39.35 L445,39.1 L445.5,38.93 L446,38.86 L446.5,38.87 L447,38.96 L447.5,39.15 L448,39.42 L448.5,39.78 L449,40.21 L449.5,40.73 L450,41.32 L450.5,41.98 L451,42.7 L451.5,43.49 L452,44.33 L452.5,45.23 L453,46.16 L453.5,47.14 L454,48.15 L454.5,49.19 L455,50.24 L455.5,51.32 L456,52.4 L456.5,53.49 L457,54.57 L457.5,55.65 L458,56.72 L458.5,57.78 L459,58.81 L459.5,59.83 L460,60.81 L460.5,61.77 L461,62.69 L461.5,63.58 L462,64.44 L462.5,65.26 L463,66.04 L463.5,66.78 L464,67.48 L464.5,68.15 L465,68.77 L465.5,69.35 L466,69.9 L466.5,70.41 L467,70.88 L467.5,71.32 L468,71.72 L468.5,72.1 L469,72.44 L469.5,72.75 L470,73.03 L470.5,73.29 L471,73.52 L471.5,73.73 L472,73.92 L472.5,74.08 L473,74.23 L473.5,74.37 L474,74.48 L474.5,74.59 L475,74.68 L475.5,74.75 L476,74.82 L476.5,74.88 L477,74.93 L477.5,74.97 L478,75 L478.5,75.03 L479,75.05 L479.5,75.06 L480,75.08 L480.5,75.09 L481,75.09 L481.5,75.09 L482,75.09 L482.5,75.09 L483,75.08 L483.5,75.08 L484,75.07 L484.5,75.06 L485,75.05 L485.5,75.04 L486,75.03 L486.5,75.01 L487,75 L487.5,74.99 L488,74.97 L488.5,74.96 L489,74.94 L489.5,74.93 L490,74.91" fill="none" stroke="#f08a24" stroke-width="1.0" stroke-linejoin="round" />
<path d="M389.5,78.2 L405,77.69" fill="none" stroke="#f08a24" stroke-width="1.0" stroke-linejoin="round" />
<path d="M485,75.08 L539.5,73.3" fill="none" stroke="#f08a24" stroke-width="1.0" stroke-linejoin="round" />
<path d="M389.74,71.85 L391.1,94.66 L392.7,83.26 L393.84,101.5 L395.67,69.57 L397.26,85.54 L398.4,62.73 L400.23,106.06 L401.82,76.42 L403.42,62.73 L404.79,83.26 L406.38,55.89 L407.98,78.7 L409.35,108.34 L410.95,87.82 L412.54,76.42 L414.37,94.66 L415.96,61.59 L417.33,83.26 L418.93,76.42 L420.07,90.1 L421.66,78.7 L423.03,85.54 L424.17,69.57 L425.77,53.61 L427.14,25.1 L428.51,99.22 L429.87,53.61 L431.47,33.09 L432.61,71.85 L433.98,42.21 L434.43,83.26 L436.03,30.81 L437.17,53.61 L439,37.65 L440.59,26.24 L441.73,10.28 L443.1,53.61 L444.47,33.09 L445.61,71.85 L447.43,28.52 L449.03,18.26 L450.4,46.77 L451.99,30.81 L453.13,60.45 L454.96,35.37 L456.56,46.77 L458.15,67.29 L459.98,49.05 L461.8,83.26 L463.4,35.37 L464.99,44.49 L465.42,71.85 L466.56,53.61 L468.39,80.98 L469.98,65.01 L471.58,96.94 L473.4,74.13 L474.54,83.26 L476.14,55.89 L477.96,108.34 L479.79,50.19 L481.38,80.98 L482.98,65.01 L484.35,55.89 L485.95,71.85 L487.09,65.01 L488.91,83.26 L490.51,76.42 L492.79,108.34 L494.38,76.42 L496.21,85.54 L498.03,78.7 L499.63,101.5 L501.22,60.45 L502.59,94.66 L504.19,55.89 L505.79,96.94 L507.61,69.57 L509.43,76.42 L511.03,83.26 L512.63,71.85 L514,53.61 L515.59,43.35 L517.19,58.17 L519.01,85.54 L520.84,69.57 L522.43,76.42 L524.03,65.01 L525.85,55.89 L527.22,76.42 L528.59,60.45 L529.96,67.29 L531.56,60.45 L532.7,94.66 L534.52,55.89 L536.12,100.36 L537.71,74.13 L539.08,103.78" fill="none" stroke="#4a4a4a" stroke-width="0.8" stroke-linejoin="round" />
<path d="M389.53,182.67 L391.22,161.59 L392.9,183.72 L394.38,165.81 L395.43,174.24 L397.12,167.91 L398.59,166.86 L400.07,164.75 L401.33,161.59 L402.81,180.56 L403.86,182.67 L405.34,150 L407.03,162.64 L408.08,157.37 L409.55,175.29 L410.82,166.86 L411.87,167.91 L412.93,146.83 L414.4,178.45 L415.67,177.4 L416.93,182.67 L418.2,175.29 L419.25,180.56 L420.73,165.81 L421.78,167.91 L422.83,173.18 L424.52,168.97 L425.58,193.21 L426.63,192.16 L427.68,180.56 L428.74,183.72 L430.21,182.67 L431.69,174.24 L432.95,164.75 L434.43,178.45 L435.9,177.4 L437.17,162.64 L438.64,181.62 L439.7,162.64 L440.75,178.45 L442.23,163.7 L443.49,173.18 L444.97,165.81 L446.44,152.1 L447.71,159.48 L449.18,138.4 L450.24,153.16 L451.92,176.35 L453.4,178.45 L454.88,186.89 L456.56,160.54 L458.04,157.37 L459.09,161.59 L460.36,199.53 L461.83,159.48 L463.05,151.05 L464.11,132.08 L465.58,183.72 L466.64,154.21 L468.32,155.27 L469.38,153.16 L470.43,174.24 L471.49,155.27 L472.54,178.45 L474.02,156.32 L475.07,152.1 L476.33,151.05 L477.81,162.64 L478.86,129.97 L480.55,192.16 L482.03,157.37 L483.08,162.64 L484.13,159.48 L485.19,146.83 L486.66,153.16 L487.72,165.81 L488.98,173.18 L490.46,174.24 L491.51,167.91 L492.56,159.48 L493.62,167.91 L494.67,179.51 L495.73,174.24 L496.78,167.91 L497.83,181.62 L498.89,165.81 L499.94,172.13 L501,167.91 L502.05,164.75 L503.74,182.67 L504.79,184.78 L506.27,144.73 L507.95,180.56 L509.01,181.62 L510.48,167.91 L511.54,162.64 L512.59,177.4 L514.07,192.16 L515.12,164.75 L516.38,161.59 L517.44,158.43 L518.49,161.59 L519.34,167.91 L520.6,162.64 L522.08,168.97 L523.55,152.1 L524.82,168.97 L526.29,171.08 L527.77,180.56 L529.03,191.1 L530.51,150 L531.98,155.27 L533.25,153.16 L534.3,165.81 L535.36,192.16 L536.83,165.81 L537.89,143.67" fill="none" stroke="#4a4a4a" stroke-width="0.8" stroke-linejoin="round" />
<path d="M393.33,284 L394.91,242.17 L396.04,235.39 L397.17,243.3 L398.76,277.22 L400.11,260.26 L401.24,264.78 L402.37,260.26 L403.5,248.96 L404.64,269.31 L406.22,250.09 L407.35,259.13 L408.48,254.61 L409.61,253.48 L411.19,247.83 L413,271.57 L414.58,260.26 L415.94,260.26 L417.07,273.83 L418.65,264.78 L419.78,274.96 L421.37,248.96 L422.5,260.26 L423.63,258 L424.98,263.65 L426.11,279.48 L427.7,262.52 L429.28,251.22 L430.64,253.48 L431.77,263.65 L433.35,267.04 L434.48,286.26 L436.06,242.17 L437.87,261.39 L439.45,259.13 L441.26,262.52 L443.07,267.04 L444.65,255.74 L446.24,243.3 L447.59,251.22 L449.17,268.17 L450.76,260.26 L452.57,279.48 L454.38,246.7 L455.96,267.04 L457.09,263.65 L458.22,272.7 L459.35,269.31 L460.93,254.61 L462.29,273.83 L463.42,298.7 L463.58,298.7 L464.71,271.57 L466.07,272.7 L466.97,264.78 L468.33,270.44 L469.91,260.26 L471.04,252.35 L472.17,278.35 L473.3,244.44 L474.43,273.83 L476.02,259.13 L477.37,255.74 L478.96,246.7 L480.54,269.31 L482.35,278.35 L484.16,245.57 L485.74,279.48 L486.87,255.74 L488,276.09 L489.58,245.57 L491.39,269.31 L493.2,262.52 L494.78,252.35 L495.91,253.48 L497.04,272.7 L498.17,256.87 L499.3,259.13 L500.44,260.26 L502.24,261.39 L503.37,268.17 L504.96,256.87 L506.77,276.09 L508.35,269.31 L509.93,258 L511.29,253.48 L512.19,242.17 L513.55,267.04 L515.13,254.61 L516.26,255.74 L517.39,269.31 L518.52,271.57 L520.33,237.65 L521.91,239.91 L523.5,278.35 L524.85,260.26 L526.44,254.61 L528.02,269.31 L529.38,235.39 L530.96,265.91 L532.54,259.13 L534.35,277.22 L536.16,260.26 L537.74,253.48 L538.87,255.74" fill="none" stroke="#4a4a4a" stroke-width="0.8" stroke-linejoin="round" />
<path d="M389.71,354.48 L391.07,356.74 L392.65,365.78 L393.78,362.39 L395.14,361.26 L396.72,377.09 L398.3,364.65 L399.43,355.61 L400.57,340.91 L401.7,379.35 L402.83,353.35 L404.64,355.61 L406.22,374.83 L407.8,365.78 L408.93,363.52 L410.06,359 L411.87,353.35 L413,354.48 L414.13,364.65 L415.26,355.61 L416.39,363.52 L417.52,362.39 L418.65,364.65 L419.78,356.74 L420.91,354.48 L422.5,360.13 L423.63,379.35 L425.44,336.39 L426.57,360.13 L427.7,363.52 L429.28,374.83 L430.41,360.13 L431.77,368.04 L432.9,363.52 L434.03,379.35 L435.16,361.26 L436.74,368.04 L437.87,365.78 L439.45,348.83 L440.81,364.65 L442.39,352.22 L443.52,355.61 L444.65,361.26 L445.78,355.61 L446.91,373.7 L448.04,355.61 L449.85,352.22 L451.44,362.39 L453.02,356.74 L454.38,351.09 L455.96,375.96 L457.54,347.7 L459.35,337.52 L460.48,357.87 L461.61,377.09 L463.13,370.31 L464.26,377.09 L466.07,363.52 L467.65,354.48 L468.78,359 L470.37,370.31 L471.72,373.7 L472.85,356.74 L474.43,373.7 L475.57,366.91 L476.7,368.04 L477.83,360.13 L479.41,356.74 L480.77,362.39 L482.35,377.09 L483.93,361.26 L485.29,359 L486.87,366.91 L488.45,369.17 L489.81,357.87 L490.94,366.91 L492.07,360.13 L493.65,363.52 L495.24,359 L496.59,355.61 L497.72,353.35 L498.85,363.52 L499.98,374.83 L501.57,359 L502.7,355.61 L503.83,349.96 L504.96,354.48 L506.09,355.61 L507.22,374.83 L507.9,399.7 L509.03,368.04 L510.16,366.91 L511.74,368.04 L512.87,364.65 L514,373.7 L515.13,365.78 L516.26,345.44 L517.39,372.57 L518.52,364.65 L519.65,369.17 L520.78,366.91 L521.91,374.83 L523.04,364.65 L524.4,368.04 L525.76,365.78 L527.11,372.57 L528.24,361.26 L529.83,382.74 L530.96,363.52 L532.09,368.04 L533.22,368.04 L534.35,372.57 L535.48,374.83 L536.61,349.96 L537.74,352.22 L539.32,361.26" fill="none" stroke="#4a4a4a" stroke-width="0.8" stroke-linejoin="round" />
<text x="520" y="21.6" font-size="10" letter-spacing="-1.5">B1s</text>
<path d="M50.4,408.3 V411.1" stroke="#6e6e6e" stroke-width="1"/>
<path d="M98.4,408.3 V411.1" stroke="#6e6e6e" stroke-width="1"/>
<path d="M146.4,408.3 V411.1" stroke="#6e6e6e" stroke-width="1"/>
<path d="M26.4,408.3 V409.90000000000003" stroke="#6e6e6e" stroke-width="1"/>
<path d="M74.4,408.3 V409.90000000000003" stroke="#6e6e6e" stroke-width="1"/>
<path d="M122.4,408.3 V409.90000000000003" stroke="#6e6e6e" stroke-width="1"/>
<path d="M238,408.3 V411.1" stroke="#6e6e6e" stroke-width="1"/>
<path d="M285.5,408.3 V411.1" stroke="#6e6e6e" stroke-width="1"/>
<path d="M333,408.3 V411.1" stroke="#6e6e6e" stroke-width="1"/>
<path d="M214.2,408.3 V409.90000000000003" stroke="#6e6e6e" stroke-width="1"/>
<path d="M261.7,408.3 V409.90000000000003" stroke="#6e6e6e" stroke-width="1"/>
<path d="M309.2,408.3 V409.90000000000003" stroke="#6e6e6e" stroke-width="1"/>
<path d="M389.6,408.5 V411.3" stroke="#6e6e6e" stroke-width="1"/>
<path d="M439.5,408.5 V411.3" stroke="#6e6e6e" stroke-width="1"/>
<path d="M489.5,408.5 V411.3" stroke="#6e6e6e" stroke-width="1"/>
<path d="M539,408.5 V411.3" stroke="#6e6e6e" stroke-width="1"/>
<path d="M414.5,408.5 V410.1" stroke="#6e6e6e" stroke-width="1"/>
<path d="M464.5,408.5 V410.1" stroke="#6e6e6e" stroke-width="1"/>
<path d="M514.5,408.5 V410.1" stroke="#6e6e6e" stroke-width="1"/>
<text x="39.050000000000004" y="427.7" font-size="13" letter-spacing="0.7">280</text>
<text x="87.35" y="427.7" font-size="13" letter-spacing="0.7">288</text>
<text x="135.54999999999998" y="427.7" font-size="13" letter-spacing="0.7">296</text>
<text x="228.74999999999997" y="427.7" font-size="13" letter-spacing="0.7">528</text>
<text x="275.75" y="427.7" font-size="13" letter-spacing="0.7">536</text>
<text x="323.55" y="427.7" font-size="13" letter-spacing="0.7">544</text>
<text x="378.65000000000003" y="427.7" font-size="13" letter-spacing="0.7">185</text>
<text x="427.75" y="427.7" font-size="13" letter-spacing="0.7">190</text>
<text x="478.05" y="427.7" font-size="13" letter-spacing="0.7">195</text>
<text x="528.0500000000001" y="427.7" font-size="13" letter-spacing="0.7">200</text>
<text x="222" y="447.6" font-size="14">Binding energy (eV)</text>
<text transform="translate(12.5,188.5) rotate(-90)" text-anchor="middle" font-size="14.7">Intensity (a.u.)</text>
<text x="1.2" y="14.5" font-size="19">a</text>
<text x="189.5" y="14.5" font-size="20">b</text>
<text x="371.5" y="14.5" font-size="20">c</text>
</svg>
</body></html>
